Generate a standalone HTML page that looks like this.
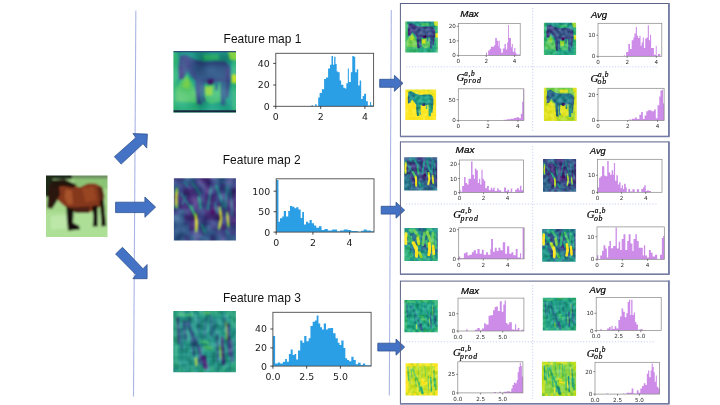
<!DOCTYPE html>
<html lang="en"><head><meta charset="utf-8"><title>Feature map pooling histograms</title>
<style>
html,body{margin:0;padding:0;background:#fff;}
body{width:720px;height:405px;overflow:hidden;}
svg{display:block;}
text{white-space:pre;}
</style></head><body>
<svg width="720" height="405" viewBox="0 0 720 405">
<defs><filter id="bl1_8" x="-20%" y="-20%" width="140%" height="140%"><feGaussianBlur stdDeviation="1.8"/></filter><filter id="nz0" x="-20%" y="-20%" width="140%" height="140%" color-interpolation-filters="sRGB"><feGaussianBlur in="SourceGraphic" stdDeviation="1.5" result="b"/><feTurbulence type="fractalNoise" baseFrequency="0.035" numOctaves="1" seed="23" result="n"/><feColorMatrix in="n" type="matrix" values="1 0 0 0 0 1 0 0 0 0 1 0 0 0 0 0 0 0 0 1" result="g"/><feComponentTransfer in="g" result="g2"><feFuncR type="linear" slope="0.9" intercept="0.05"/><feFuncG type="linear" slope="0.9" intercept="0.05"/><feFuncB type="linear" slope="0.9" intercept="0.05"/></feComponentTransfer><feBlend in="g2" in2="b" mode="soft-light" result="o"/><feComposite in="o" in2="b" operator="in"/></filter><filter id="nz1" x="-20%" y="-20%" width="140%" height="140%" color-interpolation-filters="sRGB"><feGaussianBlur in="SourceGraphic" stdDeviation="1.5" result="b"/><feTurbulence type="fractalNoise" baseFrequency="0.07" numOctaves="1" seed="21" result="n"/><feColorMatrix in="n" type="matrix" values="1 0 0 0 0 1 0 0 0 0 1 0 0 0 0 0 0 0 0 1" result="g"/><feComponentTransfer in="g" result="g2"><feFuncR type="linear" slope="0.9" intercept="0.05"/><feFuncG type="linear" slope="0.9" intercept="0.05"/><feFuncB type="linear" slope="0.9" intercept="0.05"/></feComponentTransfer><feBlend in="g2" in2="b" mode="soft-light" result="o"/><feComposite in="o" in2="b" operator="in"/></filter><filter id="nz2" x="-20%" y="-20%" width="140%" height="140%" color-interpolation-filters="sRGB"><feGaussianBlur in="SourceGraphic" stdDeviation="1.6" result="b"/><feTurbulence type="fractalNoise" baseFrequency="0.1" numOctaves="1" seed="22" result="n"/><feColorMatrix in="n" type="matrix" values="1 0 0 0 0 1 0 0 0 0 1 0 0 0 0 0 0 0 0 1" result="g"/><feComponentTransfer in="g" result="g2"><feFuncR type="linear" slope="0.8" intercept="0.1"/><feFuncG type="linear" slope="0.8" intercept="0.1"/><feFuncB type="linear" slope="0.8" intercept="0.1"/></feComponentTransfer><feBlend in="g2" in2="b" mode="soft-light" result="o"/><feComposite in="o" in2="b" operator="in"/></filter><filter id="nz3" x="-20%" y="-20%" width="140%" height="140%" color-interpolation-filters="sRGB"><feGaussianBlur in="SourceGraphic" stdDeviation="2.0" result="b"/><feTurbulence type="fractalNoise" baseFrequency="0.09" numOctaves="1" seed="3" result="n"/><feColorMatrix in="n" type="matrix" values="1 0 0 0 0 1 0 0 0 0 1 0 0 0 0 0 0 0 0 1" result="g"/><feComponentTransfer in="g" result="g2"><feFuncR type="linear" slope="0.9" intercept="0.05"/><feFuncG type="linear" slope="0.9" intercept="0.05"/><feFuncB type="linear" slope="0.9" intercept="0.05"/></feComponentTransfer><feBlend in="g2" in2="b" mode="soft-light" result="o"/><feComposite in="o" in2="b" operator="in"/></filter><filter id="nz4" x="-20%" y="-20%" width="140%" height="140%" color-interpolation-filters="sRGB"><feGaussianBlur in="SourceGraphic" stdDeviation="2.0" result="b"/><feTurbulence type="fractalNoise" baseFrequency="0.09" numOctaves="1" seed="2" result="n"/><feColorMatrix in="n" type="matrix" values="1 0 0 0 0 1 0 0 0 0 1 0 0 0 0 0 0 0 0 1" result="g"/><feComponentTransfer in="g" result="g2"><feFuncR type="linear" slope="0.9" intercept="0.05"/><feFuncG type="linear" slope="0.9" intercept="0.05"/><feFuncB type="linear" slope="0.9" intercept="0.05"/></feComponentTransfer><feBlend in="g2" in2="b" mode="soft-light" result="o"/><feComposite in="o" in2="b" operator="in"/></filter><filter id="nz5" x="-20%" y="-20%" width="140%" height="140%" color-interpolation-filters="sRGB"><feGaussianBlur in="SourceGraphic" stdDeviation="2.0" result="b"/><feTurbulence type="fractalNoise" baseFrequency="0.09" numOctaves="1" seed="4" result="n"/><feColorMatrix in="n" type="matrix" values="1 0 0 0 0 1 0 0 0 0 1 0 0 0 0 0 0 0 0 1" result="g"/><feComponentTransfer in="g" result="g2"><feFuncR type="linear" slope="0.9" intercept="0.05"/><feFuncG type="linear" slope="0.9" intercept="0.05"/><feFuncB type="linear" slope="0.9" intercept="0.05"/></feComponentTransfer><feBlend in="g2" in2="b" mode="soft-light" result="o"/><feComposite in="o" in2="b" operator="in"/></filter><filter id="nz6" x="-20%" y="-20%" width="140%" height="140%" color-interpolation-filters="sRGB"><feGaussianBlur in="SourceGraphic" stdDeviation="2.0" result="b"/><feTurbulence type="fractalNoise" baseFrequency="0.09" numOctaves="1" seed="5" result="n"/><feColorMatrix in="n" type="matrix" values="1 0 0 0 0 1 0 0 0 0 1 0 0 0 0 0 0 0 0 1" result="g"/><feComponentTransfer in="g" result="g2"><feFuncR type="linear" slope="0.9" intercept="0.05"/><feFuncG type="linear" slope="0.9" intercept="0.05"/><feFuncB type="linear" slope="0.9" intercept="0.05"/></feComponentTransfer><feBlend in="g2" in2="b" mode="soft-light" result="o"/><feComposite in="o" in2="b" operator="in"/></filter><filter id="nz7" x="-20%" y="-20%" width="140%" height="140%" color-interpolation-filters="sRGB"><feGaussianBlur in="SourceGraphic" stdDeviation="2.0" result="b"/><feTurbulence type="fractalNoise" baseFrequency="0.09" numOctaves="1" seed="6" result="n"/><feColorMatrix in="n" type="matrix" values="1 0 0 0 0 1 0 0 0 0 1 0 0 0 0 0 0 0 0 1" result="g"/><feComponentTransfer in="g" result="g2"><feFuncR type="linear" slope="0.9" intercept="0.05"/><feFuncG type="linear" slope="0.9" intercept="0.05"/><feFuncB type="linear" slope="0.9" intercept="0.05"/></feComponentTransfer><feBlend in="g2" in2="b" mode="soft-light" result="o"/><feComposite in="o" in2="b" operator="in"/></filter><filter id="nz8" x="-20%" y="-20%" width="140%" height="140%" color-interpolation-filters="sRGB"><feGaussianBlur in="SourceGraphic" stdDeviation="2.0" result="b"/><feTurbulence type="fractalNoise" baseFrequency="0.09" numOctaves="1" seed="7" result="n"/><feColorMatrix in="n" type="matrix" values="1 0 0 0 0 1 0 0 0 0 1 0 0 0 0 0 0 0 0 1" result="g"/><feComponentTransfer in="g" result="g2"><feFuncR type="linear" slope="0.9" intercept="0.05"/><feFuncG type="linear" slope="0.9" intercept="0.05"/><feFuncB type="linear" slope="0.9" intercept="0.05"/></feComponentTransfer><feBlend in="g2" in2="b" mode="soft-light" result="o"/><feComposite in="o" in2="b" operator="in"/></filter><filter id="nz9" x="-20%" y="-20%" width="140%" height="140%" color-interpolation-filters="sRGB"><feGaussianBlur in="SourceGraphic" stdDeviation="2.0" result="b"/><feTurbulence type="fractalNoise" baseFrequency="0.09" numOctaves="1" seed="8" result="n"/><feColorMatrix in="n" type="matrix" values="1 0 0 0 0 1 0 0 0 0 1 0 0 0 0 0 0 0 0 1" result="g"/><feComponentTransfer in="g" result="g2"><feFuncR type="linear" slope="0.9" intercept="0.05"/><feFuncG type="linear" slope="0.9" intercept="0.05"/><feFuncB type="linear" slope="0.9" intercept="0.05"/></feComponentTransfer><feBlend in="g2" in2="b" mode="soft-light" result="o"/><feComposite in="o" in2="b" operator="in"/></filter><filter id="nz10" x="-20%" y="-20%" width="140%" height="140%" color-interpolation-filters="sRGB"><feGaussianBlur in="SourceGraphic" stdDeviation="2.0" result="b"/><feTurbulence type="fractalNoise" baseFrequency="0.09" numOctaves="1" seed="9" result="n"/><feColorMatrix in="n" type="matrix" values="1 0 0 0 0 1 0 0 0 0 1 0 0 0 0 0 0 0 0 1" result="g"/><feComponentTransfer in="g" result="g2"><feFuncR type="linear" slope="0.9" intercept="0.05"/><feFuncG type="linear" slope="0.9" intercept="0.05"/><feFuncB type="linear" slope="0.9" intercept="0.05"/></feComponentTransfer><feBlend in="g2" in2="b" mode="soft-light" result="o"/><feComposite in="o" in2="b" operator="in"/></filter><filter id="nz11" x="-20%" y="-20%" width="140%" height="140%" color-interpolation-filters="sRGB"><feGaussianBlur in="SourceGraphic" stdDeviation="2.0" result="b"/><feTurbulence type="fractalNoise" baseFrequency="0.09" numOctaves="1" seed="10" result="n"/><feColorMatrix in="n" type="matrix" values="1 0 0 0 0 1 0 0 0 0 1 0 0 0 0 0 0 0 0 1" result="g"/><feComponentTransfer in="g" result="g2"><feFuncR type="linear" slope="0.9" intercept="0.05"/><feFuncG type="linear" slope="0.9" intercept="0.05"/><feFuncB type="linear" slope="0.9" intercept="0.05"/></feComponentTransfer><feBlend in="g2" in2="b" mode="soft-light" result="o"/><feComposite in="o" in2="b" operator="in"/></filter><filter id="nz12" x="-20%" y="-20%" width="140%" height="140%" color-interpolation-filters="sRGB"><feGaussianBlur in="SourceGraphic" stdDeviation="2.0" result="b"/><feTurbulence type="fractalNoise" baseFrequency="0.09" numOctaves="1" seed="11" result="n"/><feColorMatrix in="n" type="matrix" values="1 0 0 0 0 1 0 0 0 0 1 0 0 0 0 0 0 0 0 1" result="g"/><feComponentTransfer in="g" result="g2"><feFuncR type="linear" slope="0.9" intercept="0.05"/><feFuncG type="linear" slope="0.9" intercept="0.05"/><feFuncB type="linear" slope="0.9" intercept="0.05"/></feComponentTransfer><feBlend in="g2" in2="b" mode="soft-light" result="o"/><feComposite in="o" in2="b" operator="in"/></filter><filter id="nz13" x="-20%" y="-20%" width="140%" height="140%" color-interpolation-filters="sRGB"><feGaussianBlur in="SourceGraphic" stdDeviation="2.0" result="b"/><feTurbulence type="fractalNoise" baseFrequency="0.09" numOctaves="1" seed="12" result="n"/><feColorMatrix in="n" type="matrix" values="1 0 0 0 0 1 0 0 0 0 1 0 0 0 0 0 0 0 0 1" result="g"/><feComponentTransfer in="g" result="g2"><feFuncR type="linear" slope="0.9" intercept="0.05"/><feFuncG type="linear" slope="0.9" intercept="0.05"/><feFuncB type="linear" slope="0.9" intercept="0.05"/></feComponentTransfer><feBlend in="g2" in2="b" mode="soft-light" result="o"/><feComposite in="o" in2="b" operator="in"/></filter><pattern id="chk" width="6.4" height="6.4" patternUnits="userSpaceOnUse"><rect width="6.4" height="6.4" fill="none"/><rect x="0" y="0" width="2.4" height="6.4" fill="#1f6f8a" opacity="0.75"/><rect x="0" y="0" width="6.4" height="2.2" fill="#4cc47a" opacity="0.4"/></pattern></defs>
<line x1="135.85" y1="10.4" x2="133.5" y2="396.5" stroke="#aab5e4" stroke-width="1.1"/>
<line x1="391.3" y1="10" x2="389.3" y2="395.4" stroke="#aab5e4" stroke-width="1.1"/>
<svg x="46" y="175.5" width="61.5" height="61.5" viewBox="0 0 100 100" preserveAspectRatio="none"><g filter="url(#bl1_8)"><path d="M-15 -15H115V115H-15Z" fill="#a6d88c"/><path d="M-15 60H115V115H-15Z" fill="#addf96"/><path d="M8 66 L34 64 L34 86 L8 88Z" fill="#bfe8ae" opacity="0.8"/><path d="M44 4 L115 4 L115 22 L48 20Z" fill="#8cc474"/><path d="M-15 -15H115V5H-15Z" fill="#6e8f62"/><path d="M-15 -15H42V6H-15Z" fill="#1d2b1a"/><path d="M-15 0 L12 2 L8 16 L4 34 L-15 36Z" fill="#1c2a19"/><path d="M15 20 L30 12 L45 16 L55 19 L68 13 L80 13 L90 18 L94 30 L93 48 L86 52 L78 56 L70 60 L55 60 L42 58 L34 53 L27 47 L19 40Z" fill="#85371b"/><path d="M32 22 L42 24 L44 46 L36 48 L30 36Z" fill="#ab572e" opacity="0.85"/><path d="M58 20 L78 18 L82 40 L64 44Z" fill="#a04a26" opacity="0.7"/><path d="M40 52 L72 50 L70 61 L48 61Z" fill="#4d2212"/><path d="M84 18 L92 20 L95 34 L93 48 L88 48Z" fill="#5a2614"/><path d="M6 14 L20 12 L23 30 L17 43 L10 54 L2 53 L3 36 L4 22Z" fill="#2a140e"/><path d="M6 8 L30 6 L50 15 L44 20 L28 17 L12 20Z" fill="#20120c"/><path d="M33 50 L45 55 L44 77 L54 82 L55 88 L36 90 L34 72Z" fill="#15100c"/><path d="M74 50 L84 48 L84 70 L84 83 L76 83 L77 66Z" fill="#181008"/><path d="M87 42 L94 40 L98 82 L90 83 L89 64Z" fill="#1c1209"/></g></svg>
<polygon points="114.4,156.7 136,137.5 132.9,133.6 147.4,134.1 146.7,148.1 143,143.7 121.2,164.1" fill="#4472c4" stroke="#2f528f" stroke-width="0.8" stroke-linejoin="miter"/>
<polygon points="115.6,202.2 144.9,202.2 144.9,197 155.6,207.1 144.9,217.3 144.9,212.6 115.6,212.6" fill="#4472c4" stroke="#2f528f" stroke-width="0.8" stroke-linejoin="miter"/>
<polygon points="122.5,247.3 143,268.8 147.1,264.6 147.1,278.7 132.9,278.7 136,274.7 115.6,254" fill="#4472c4" stroke="#2f528f" stroke-width="0.8" stroke-linejoin="miter"/>
<polygon points="379.7,79.3 394.4,79.3 394.4,75.3 403,83.3 394.4,91.3 394.4,87.3 379.7,87.3" fill="#4472c4" stroke="#2f528f" stroke-width="0.8" stroke-linejoin="miter"/>
<polygon points="381.2,206.3 396,206.3 396,202.2 404.7,210.2 396,218.2 396,214.1 381.2,214.1" fill="#4472c4" stroke="#2f528f" stroke-width="0.8" stroke-linejoin="miter"/>
<polygon points="377.8,343.2 396,343.2 396,339 404.7,347.1 396,355.2 396,351 377.8,351" fill="#4472c4" stroke="#2f528f" stroke-width="0.8" stroke-linejoin="miter"/>
<rect x="400.4" y="3.5" width="268.4" height="132.9" fill="none" stroke="#5a6288" stroke-width="1"/>
<line x1="668.9" y1="3" x2="668.9" y2="136.4" stroke="#747ca6" stroke-width="1.8"/>
<line x1="400" y1="136.4" x2="669.5" y2="136.4" stroke="#747ca6" stroke-width="1.5"/>
<rect x="400.4" y="141.9" width="268.4" height="132.4" fill="none" stroke="#5a6288" stroke-width="1"/>
<line x1="668.9" y1="141.4" x2="668.9" y2="274.3" stroke="#747ca6" stroke-width="1.8"/>
<line x1="400" y1="274.3" x2="669.5" y2="274.3" stroke="#747ca6" stroke-width="1.5"/>
<rect x="400.4" y="281.1" width="268.4" height="122.7" fill="none" stroke="#5a6288" stroke-width="1"/>
<line x1="668.9" y1="280.6" x2="668.9" y2="403.8" stroke="#747ca6" stroke-width="1.8"/>
<line x1="400" y1="403.8" x2="669.5" y2="403.8" stroke="#747ca6" stroke-width="1.5"/>
<line x1="406" y1="66.8" x2="658.4" y2="66.8" stroke="#bcc5f4" stroke-width="0.8" stroke-dasharray="1.2 1.7"/>
<line x1="406" y1="204" x2="658" y2="204" stroke="#bcc5f4" stroke-width="0.8" stroke-dasharray="1.2 1.7"/>
<line x1="406" y1="341.8" x2="655.5" y2="341.8" stroke="#bcc5f4" stroke-width="0.8" stroke-dasharray="1.2 1.7"/>
<line x1="532.7" y1="8" x2="532.7" y2="131" stroke="#bcc5f4" stroke-width="0.8" stroke-dasharray="1.2 1.7"/>
<line x1="532.7" y1="146" x2="532.7" y2="269" stroke="#bcc5f4" stroke-width="0.8" stroke-dasharray="1.2 1.7"/>
<line x1="532.7" y1="285" x2="532.7" y2="399" stroke="#bcc5f4" stroke-width="0.8" stroke-dasharray="1.2 1.7"/>
<svg x="173.4" y="51.1" width="62.6" height="61.5" viewBox="0 0 100 100" preserveAspectRatio="none"><g filter="url(#nz0)"><rect x="-15" y="-15" width="130" height="130" fill="#21968a"/><polygon points="-15,45 115,45 115,115 -15,115" fill="#22a386"/><polygon points="-15,-15 6,-15 6,115 -15,115" fill="#36b678"/><polygon points="93,-15 115,-15 115,115 93,115" fill="#30b17c"/><polygon points="86,-5 115,-5 115,16 90,14" fill="#87d448"/><polygon points="46,6 72,5 74,14 50,15" fill="#36b678"/><polygon points="93,38 102,38 102,52 93,52" fill="#bddf26"/><polygon points="5,8 11,8 9,44 5,48" fill="#29ad80"/><polygon points="22,38 30,52 37,70 38,96 4,96 4,62 12,48" fill="#4fc36a"/><polygon points="20,42 27,52 24,62 14,58" fill="#7ad151"/><polygon points="4,82 40,84 40,100 4,100" fill="#2caf7e"/><polygon points="48,56 76,54 76,82 60,86 50,80" fill="#41bd72"/><polygon points="50,58 63,57 62,72 52,72" fill="#8ed544"/><polygon points="84,70 94,68 94,96 84,96" fill="#229f87"/><polygon points="10,8 20,6 34,14 50,18 66,17 82,17 90,24 91,48 88,76 83,76 84,52 76,50 62,52 48,52 36,50 28,40 22,32 16,44 9,46 8,28" fill="#3b528a"/><polygon points="30,22 80,22 82,44 40,46" fill="#365c8c"/><polygon points="9,26 15,24 16,44 9,46" fill="#423e83"/><polygon points="14,10 24,12 30,26 22,28" fill="#3f4988"/><polygon points="86,28 91,28 90,50 85,50" fill="#414487"/><polygon points="55,46 64,45 63,54 55,54" fill="#461668"/><polygon points="35,48 44,50 44,82 47,86 38,86 36,70" fill="#3b528a"/><polygon points="44,50 50,52 49,72 52,82 46,82" fill="#355f8d"/><polygon points="75,50 84,52 83,88 76,88" fill="#33648d"/><polygon points="66,52 72,52 71,64 67,64" fill="#2e6e8e"/></g><rect x="0" y="0" width="100" height="1.9" fill="#2b4a78"/><rect x="0" y="96.2" width="100" height="3.8" fill="#18263e"/></svg>
<svg x="173.9" y="178.3" width="62" height="62.1" viewBox="0 0 100 100" preserveAspectRatio="none"><g filter="url(#nz1)"><rect x="-12" y="-12" width="32.67" height="24.33" fill="#404788"/><rect x="16.67" y="-12" width="20.67" height="24.33" fill="#365c8c"/><rect x="33.33" y="-12" width="12.33" height="24.33" fill="#404788"/><rect x="41.67" y="-12" width="20.67" height="24.33" fill="#462e7a"/><rect x="58.33" y="-12" width="12.33" height="24.33" fill="#404788"/><rect x="66.67" y="-12" width="20.67" height="24.33" fill="#365c8c"/><rect x="83.33" y="-12" width="28.67" height="24.33" fill="#404788"/><rect x="-12" y="8.33" width="24.33" height="12.33" fill="#365c8c"/><rect x="8.33" y="8.33" width="45.67" height="12.33" fill="#404788"/><rect x="50" y="8.33" width="12.33" height="12.33" fill="#462e7a"/><rect x="58.33" y="8.33" width="12.33" height="12.33" fill="#404788"/><rect x="66.67" y="8.33" width="12.33" height="12.33" fill="#365c8c"/><rect x="75" y="8.33" width="12.33" height="12.33" fill="#404788"/><rect x="83.33" y="8.33" width="12.33" height="12.33" fill="#365c8c"/><rect x="91.67" y="8.33" width="20.33" height="12.33" fill="#404788"/><rect x="-12" y="16.67" width="24.33" height="12.33" fill="#365c8c"/><rect x="8.33" y="16.67" width="12.33" height="12.33" fill="#404788"/><rect x="16.67" y="16.67" width="20.67" height="12.33" fill="#462e7a"/><rect x="33.33" y="16.67" width="20.67" height="12.33" fill="#404788"/><rect x="50" y="16.67" width="12.33" height="12.33" fill="#462e7a"/><rect x="58.33" y="16.67" width="29" height="12.33" fill="#404788"/><rect x="83.33" y="16.67" width="12.33" height="12.33" fill="#365c8c"/><rect x="91.67" y="16.67" width="20.33" height="12.33" fill="#462e7a"/><rect x="-12" y="25" width="24.33" height="12.33" fill="#404788"/><rect x="8.33" y="25" width="37.33" height="12.33" fill="#462e7a"/><rect x="41.67" y="25" width="12.33" height="12.33" fill="#404788"/><rect x="50" y="25" width="20.67" height="12.33" fill="#462e7a"/><rect x="66.67" y="25" width="29" height="12.33" fill="#404788"/><rect x="91.67" y="25" width="20.33" height="12.33" fill="#462e7a"/><rect x="-12" y="33.33" width="24.33" height="12.33" fill="#404788"/><rect x="8.33" y="33.33" width="37.33" height="12.33" fill="#462e7a"/><rect x="41.67" y="33.33" width="12.33" height="12.33" fill="#404788"/><rect x="50" y="33.33" width="20.67" height="12.33" fill="#462e7a"/><rect x="66.67" y="33.33" width="20.67" height="12.33" fill="#404788"/><rect x="83.33" y="33.33" width="28.67" height="12.33" fill="#462e7a"/><rect x="-12" y="41.67" width="24.33" height="12.33" fill="#365c8c"/><rect x="8.33" y="41.67" width="20.67" height="12.33" fill="#462e7a"/><rect x="25" y="41.67" width="12.33" height="12.33" fill="#404788"/><rect x="33.33" y="41.67" width="12.33" height="12.33" fill="#462e7a"/><rect x="41.67" y="41.67" width="20.67" height="12.33" fill="#404788"/><rect x="58.33" y="41.67" width="20.67" height="12.33" fill="#462e7a"/><rect x="75" y="41.67" width="12.33" height="12.33" fill="#404788"/><rect x="83.33" y="41.67" width="28.67" height="12.33" fill="#462e7a"/><rect x="-12" y="50" width="24.33" height="12.33" fill="#404788"/><rect x="8.33" y="50" width="12.33" height="12.33" fill="#365c8c"/><rect x="16.67" y="50" width="12.33" height="12.33" fill="#404788"/><rect x="25" y="50" width="12.33" height="12.33" fill="#462e7a"/><rect x="33.33" y="50" width="20.67" height="12.33" fill="#404788"/><rect x="50" y="50" width="12.33" height="12.33" fill="#462e7a"/><rect x="58.33" y="50" width="12.33" height="12.33" fill="#461264"/><rect x="66.67" y="50" width="12.33" height="12.33" fill="#462e7a"/><rect x="75" y="50" width="12.33" height="12.33" fill="#404788"/><rect x="83.33" y="50" width="28.67" height="12.33" fill="#462e7a"/><rect x="-12" y="58.33" width="32.67" height="12.33" fill="#365c8c"/><rect x="16.67" y="58.33" width="20.67" height="12.33" fill="#462e7a"/><rect x="33.33" y="58.33" width="20.67" height="12.33" fill="#404788"/><rect x="50" y="58.33" width="29" height="12.33" fill="#462e7a"/><rect x="75" y="58.33" width="12.33" height="12.33" fill="#404788"/><rect x="83.33" y="58.33" width="28.67" height="12.33" fill="#462e7a"/><rect x="-12" y="66.67" width="32.67" height="12.33" fill="#365c8c"/><rect x="16.67" y="66.67" width="12.33" height="12.33" fill="#404788"/><rect x="25" y="66.67" width="12.33" height="12.33" fill="#462e7a"/><rect x="33.33" y="66.67" width="62.33" height="12.33" fill="#404788"/><rect x="91.67" y="66.67" width="20.33" height="12.33" fill="#462e7a"/><rect x="-12" y="75" width="41" height="12.33" fill="#365c8c"/><rect x="25" y="75" width="12.33" height="12.33" fill="#462e7a"/><rect x="33.33" y="75" width="20.67" height="12.33" fill="#404788"/><rect x="50" y="75" width="12.33" height="12.33" fill="#365c8c"/><rect x="58.33" y="75" width="20.67" height="12.33" fill="#404788"/><rect x="75" y="75" width="12.33" height="12.33" fill="#462e7a"/><rect x="83.33" y="75" width="28.67" height="12.33" fill="#404788"/><rect x="-12" y="83.33" width="41" height="12.33" fill="#365c8c"/><rect x="25" y="83.33" width="29" height="12.33" fill="#404788"/><rect x="50" y="83.33" width="20.67" height="12.33" fill="#365c8c"/><rect x="66.67" y="83.33" width="45.33" height="12.33" fill="#404788"/><rect x="-12" y="91.67" width="32.67" height="20.33" fill="#365c8c"/><rect x="16.67" y="91.67" width="12.33" height="20.33" fill="#404788"/><rect x="25" y="91.67" width="12.33" height="20.33" fill="#365c8c"/><rect x="33.33" y="91.67" width="12.33" height="20.33" fill="#404788"/><rect x="41.67" y="91.67" width="20.67" height="20.33" fill="#365c8c"/><rect x="58.33" y="91.67" width="12.33" height="20.33" fill="#404788"/><rect x="66.67" y="91.67" width="12.33" height="20.33" fill="#365c8c"/><rect x="75" y="91.67" width="12.33" height="20.33" fill="#404788"/><rect x="83.33" y="91.67" width="28.67" height="20.33" fill="#365c8c"/><path d="M30 8 L36 16 L42 25" stroke="#248a8d" stroke-width="3.36" fill="none" stroke-linecap="round" stroke-linejoin="round"/><path d="M16 6 L22 12" stroke="#287f8d" stroke-width="3.12" fill="none" stroke-linecap="round" stroke-linejoin="round"/><path d="M40 30 L42 40 L43 48" stroke="#22a386" stroke-width="3.6" fill="none" stroke-linecap="round" stroke-linejoin="round"/><path d="M68 12 L74 28 L80 45" stroke="#21928c" stroke-width="3.36" fill="none" stroke-linecap="round" stroke-linejoin="round"/><path d="M60 15 L57 34 L55 50" stroke="#26848d" stroke-width="3.36" fill="none" stroke-linecap="round" stroke-linejoin="round"/><path d="M85 15 L84 50" stroke="#26848d" stroke-width="3.12" fill="none" stroke-linecap="round" stroke-linejoin="round"/><path d="M45 75 L50 87" stroke="#219989" stroke-width="3.6" fill="none" stroke-linecap="round" stroke-linejoin="round"/><path d="M12 25 L25 45" stroke="#2a798e" stroke-width="3.6" fill="none" stroke-linecap="round" stroke-linejoin="round"/><path d="M20 28 L13 42" stroke="#2c748e" stroke-width="3.12" fill="none" stroke-linecap="round" stroke-linejoin="round"/><path d="M27 45 L34 60" stroke="#32b37b" stroke-width="4.08" fill="none" stroke-linecap="round" stroke-linejoin="round"/><path d="M92 20 L94 60" stroke="#2c748e" stroke-width="2.88" fill="none" stroke-linecap="round" stroke-linejoin="round"/><path d="M66 40 L70 56" stroke="#2a798e" stroke-width="3.12" fill="none" stroke-linecap="round" stroke-linejoin="round"/><path d="M84 84 L88 90" stroke="#287f8d" stroke-width="3.12" fill="none" stroke-linecap="round" stroke-linejoin="round"/><path d="M4.8 17 L3.8 32 L4.2 47" stroke="#89d448" stroke-width="3.6" fill="none" stroke-linecap="round" stroke-linejoin="round"/><path d="M4.6 22 L3.8 32 L4 42" stroke="#fde725" stroke-width="2.64" fill="none" stroke-linecap="round" stroke-linejoin="round"/><path d="M35 58 L36.5 72 L36 85" stroke="#a6da35" stroke-width="3.84" fill="none" stroke-linecap="round" stroke-linejoin="round"/><path d="M35.6 62 L36.5 72 L36.2 80" stroke="#fde725" stroke-width="2.88" fill="none" stroke-linecap="round" stroke-linejoin="round"/><path d="M74 47 L76 65 L73 81" stroke="#89d448" stroke-width="3.6" fill="none" stroke-linecap="round" stroke-linejoin="round"/><path d="M74.8 53 L76 65 L74 77" stroke="#fde725" stroke-width="2.64" fill="none" stroke-linecap="round" stroke-linejoin="round"/><path d="M86 55 L88 78" stroke="#6ecd58" stroke-width="3.36" fill="none" stroke-linecap="round" stroke-linejoin="round"/><path d="M86.4 60 L87.6 74" stroke="#eee525" stroke-width="2.4" fill="none" stroke-linecap="round" stroke-linejoin="round"/></g></svg>
<svg x="173.3" y="311.1" width="62.6" height="61.1" viewBox="0 0 100 100" preserveAspectRatio="none"><g filter="url(#nz2)"><rect x="-12" y="-12" width="32.67" height="24.33" fill="#2eb07d"/><rect x="16.67" y="-12" width="12.33" height="24.33" fill="#219989"/><rect x="25" y="-12" width="12.33" height="24.33" fill="#2eb07d"/><rect x="33.33" y="-12" width="12.33" height="24.33" fill="#219989"/><rect x="41.67" y="-12" width="12.33" height="24.33" fill="#2eb07d"/><rect x="50" y="-12" width="12.33" height="24.33" fill="#219989"/><rect x="58.33" y="-12" width="20.67" height="24.33" fill="#2eb07d"/><rect x="75" y="-12" width="12.33" height="24.33" fill="#219989"/><rect x="83.33" y="-12" width="28.67" height="24.33" fill="#2eb07d"/><rect x="-12" y="8.33" width="24.33" height="12.33" fill="#2eb07d"/><rect x="8.33" y="8.33" width="87.33" height="12.33" fill="#219989"/><rect x="91.67" y="8.33" width="20.33" height="12.33" fill="#2eb07d"/><rect x="-12" y="16.67" width="24.33" height="12.33" fill="#2eb07d"/><rect x="8.33" y="16.67" width="12.33" height="12.33" fill="#219989"/><rect x="16.67" y="16.67" width="12.33" height="12.33" fill="#2d708e"/><rect x="25" y="16.67" width="70.67" height="12.33" fill="#219989"/><rect x="91.67" y="16.67" width="20.33" height="12.33" fill="#2eb07d"/><rect x="-12" y="25" width="24.33" height="12.33" fill="#2eb07d"/><rect x="8.33" y="25" width="103.67" height="12.33" fill="#219989"/><rect x="-12" y="33.33" width="24.33" height="12.33" fill="#2eb07d"/><rect x="8.33" y="33.33" width="20.67" height="12.33" fill="#219989"/><rect x="25" y="33.33" width="12.33" height="12.33" fill="#2d708e"/><rect x="33.33" y="33.33" width="78.67" height="12.33" fill="#219989"/><rect x="-12" y="41.67" width="24.33" height="12.33" fill="#2eb07d"/><rect x="8.33" y="41.67" width="29" height="12.33" fill="#219989"/><rect x="33.33" y="41.67" width="12.33" height="12.33" fill="#2d708e"/><rect x="41.67" y="41.67" width="70.33" height="12.33" fill="#219989"/><rect x="-12" y="50" width="24.33" height="12.33" fill="#2eb07d"/><rect x="8.33" y="50" width="45.67" height="12.33" fill="#219989"/><rect x="50" y="50" width="12.33" height="12.33" fill="#2eb07d"/><rect x="58.33" y="50" width="53.67" height="12.33" fill="#219989"/><rect x="-12" y="58.33" width="24.33" height="12.33" fill="#2eb07d"/><rect x="8.33" y="58.33" width="45.67" height="12.33" fill="#219989"/><rect x="50" y="58.33" width="20.67" height="12.33" fill="#2eb07d"/><rect x="66.67" y="58.33" width="45.33" height="12.33" fill="#219989"/><rect x="-12" y="66.67" width="24.33" height="12.33" fill="#2eb07d"/><rect x="8.33" y="66.67" width="103.67" height="12.33" fill="#219989"/><rect x="-12" y="75" width="24.33" height="12.33" fill="#2eb07d"/><rect x="8.33" y="75" width="103.67" height="12.33" fill="#219989"/><rect x="-12" y="83.33" width="24.33" height="12.33" fill="#2eb07d"/><rect x="8.33" y="83.33" width="87.33" height="12.33" fill="#219989"/><rect x="91.67" y="83.33" width="20.33" height="12.33" fill="#2eb07d"/><rect x="-12" y="91.67" width="24.33" height="20.33" fill="#219989"/><rect x="8.33" y="91.67" width="12.33" height="20.33" fill="#2eb07d"/><rect x="16.67" y="91.67" width="12.33" height="20.33" fill="#219989"/><rect x="25" y="91.67" width="12.33" height="20.33" fill="#2eb07d"/><rect x="33.33" y="91.67" width="12.33" height="20.33" fill="#219989"/><rect x="41.67" y="91.67" width="12.33" height="20.33" fill="#2eb07d"/><rect x="50" y="91.67" width="12.33" height="20.33" fill="#219989"/><rect x="58.33" y="91.67" width="12.33" height="20.33" fill="#2eb07d"/><rect x="66.67" y="91.67" width="12.33" height="20.33" fill="#219989"/><rect x="75" y="91.67" width="12.33" height="20.33" fill="#2eb07d"/><rect x="83.33" y="91.67" width="12.33" height="20.33" fill="#219989"/><rect x="91.67" y="91.67" width="20.33" height="20.33" fill="#2eb07d"/><rect x="-5" y="-5" width="110" height="110" fill="url(#chk)"/><path d="M7 12 L8 30 L9 52" stroke="#404788" stroke-width="3.74" fill="none" stroke-linecap="round" stroke-linejoin="round"/><path d="M13 30 L14 62" stroke="#34628d" stroke-width="2.64" fill="none" stroke-linecap="round" stroke-linejoin="round"/><path d="M17 18 L20 46" stroke="#3b528a" stroke-width="3.52" fill="none" stroke-linecap="round" stroke-linejoin="round"/><path d="M22 18 L36 52 L50 86" stroke="#3b528a" stroke-width="3.96" fill="none" stroke-linecap="round" stroke-linejoin="round"/><path d="M30 45 L33 72" stroke="#39578b" stroke-width="3.52" fill="none" stroke-linecap="round" stroke-linejoin="round"/><path d="M26 10 L28 30" stroke="#32668d" stroke-width="2.86" fill="none" stroke-linecap="round" stroke-linejoin="round"/><path d="M42 58 L43 86" stroke="#3d4c89" stroke-width="3.52" fill="none" stroke-linecap="round" stroke-linejoin="round"/><path d="M48 76 L52 92" stroke="#482475" stroke-width="7.15" fill="none" stroke-linecap="round" stroke-linejoin="round"/><path d="M78 44 L80 86" stroke="#482475" stroke-width="3.96" fill="none" stroke-linecap="round" stroke-linejoin="round"/><path d="M87 22 L90 72" stroke="#443780" stroke-width="3.96" fill="none" stroke-linecap="round" stroke-linejoin="round"/><path d="M93 48 L94 82" stroke="#404788" stroke-width="3.08" fill="none" stroke-linecap="round" stroke-linejoin="round"/><path d="M70 38 L71 82" stroke="#39578b" stroke-width="3.08" fill="none" stroke-linecap="round" stroke-linejoin="round"/><path d="M60 8 L62 42" stroke="#32668d" stroke-width="3.08" fill="none" stroke-linecap="round" stroke-linejoin="round"/><path d="M52 12 L50 42" stroke="#306c8e" stroke-width="3.08" fill="none" stroke-linecap="round" stroke-linejoin="round"/><path d="M40 12 L41 36" stroke="#306c8e" stroke-width="2.64" fill="none" stroke-linecap="round" stroke-linejoin="round"/><path d="M66 14 L67 34" stroke="#2d708e" stroke-width="2.64" fill="none" stroke-linecap="round" stroke-linejoin="round"/><path d="M82 10 L82 30" stroke="#306c8e" stroke-width="2.64" fill="none" stroke-linecap="round" stroke-linejoin="round"/><path d="M36 77 L37 89" stroke="#e7e425" stroke-width="2.42" fill="none" stroke-linecap="round" stroke-linejoin="round"/><path d="M84.5 18 L85.5 46" stroke="#91d642" stroke-width="2.2" fill="none" stroke-linecap="round" stroke-linejoin="round"/><path d="M75 58 L76 76" stroke="#84d34b" stroke-width="2.64" fill="none" stroke-linecap="round" stroke-linejoin="round"/><path d="M50 59 L60 60" stroke="#62c95f" stroke-width="3.08" fill="none" stroke-linecap="round" stroke-linejoin="round"/><path d="M45 50 L56 51" stroke="#52c468" stroke-width="2.64" fill="none" stroke-linecap="round" stroke-linejoin="round"/><path d="M10 6 L30 7" stroke="#4cc26b" stroke-width="2.64" fill="none" stroke-linecap="round" stroke-linejoin="round"/><path d="M50 3 L58 3" stroke="#72ce56" stroke-width="2.64" fill="none" stroke-linecap="round" stroke-linejoin="round"/></g></svg>
<svg x="405.3" y="21.4" width="32.5" height="31.2" viewBox="0 0 100 100" preserveAspectRatio="none"><g filter="url(#nz3)"><rect x="-15" y="-15" width="130" height="130" fill="#219a89"/><polygon points="-15,45 115,45 115,115 -15,115" fill="#27ab81"/><polygon points="-15,-15 6,-15 6,115 -15,115" fill="#4cc26b"/><polygon points="93,-15 115,-15 115,115 93,115" fill="#41bd72"/><polygon points="86,-5 115,-5 115,16 90,14" fill="#c7e026"/><polygon points="46,6 72,5 74,14 50,15" fill="#4cc26b"/><polygon points="93,38 102,38 102,52 93,52" fill="#fde725"/><polygon points="5,8 11,8 9,44 5,48" fill="#38b777"/><polygon points="22,38 30,52 37,70 38,96 4,96 4,62 12,48" fill="#75cf54"/><polygon points="20,42 27,52 24,62 14,58" fill="#b6de2a"/><polygon points="4,82 40,84 40,100 4,100" fill="#3cba74"/><polygon points="48,56 76,54 76,82 60,86 50,80" fill="#60c860"/><polygon points="50,58 63,57 62,72 52,72" fill="#cfe126"/><polygon points="84,70 94,68 94,96 84,96" fill="#22a685"/><polygon points="10,8 20,6 34,14 50,18 66,17 82,17 90,24 91,48 88,76 83,76 84,52 76,50 62,52 48,52 36,50 28,40 22,32 16,44 9,46 8,28" fill="#414587"/><polygon points="30,22 80,22 82,44 40,46" fill="#3b528a"/><polygon points="9,26 15,24 16,44 9,46" fill="#472978"/><polygon points="14,10 24,12 30,26 22,28" fill="#433981"/><polygon points="86,28 91,28 90,50 85,50" fill="#45317c"/><polygon points="55,46 64,45 63,54 55,54" fill="#440154"/><polygon points="35,48 44,50 44,82 47,86 38,86 36,70" fill="#414587"/><polygon points="44,50 50,52 49,72 52,82 46,82" fill="#39568b"/><polygon points="75,50 84,52 83,88 76,88" fill="#365c8c"/><polygon points="66,52 72,52 71,64 67,64" fill="#31698d"/></g></svg>
<svg x="543.9" y="22.8" width="32.2" height="32.2" viewBox="0 0 100 100" preserveAspectRatio="none"><g filter="url(#nz4)"><rect x="-15" y="-15" width="130" height="130" fill="#21968a"/><polygon points="-15,45 115,45 115,115 -15,115" fill="#22a585"/><polygon points="-15,-15 6,-15 6,115 -15,115" fill="#3cb975"/><polygon points="93,-15 115,-15 115,115 93,115" fill="#34b479"/><polygon points="86,-5 115,-5 115,16 90,14" fill="#9dd83b"/><polygon points="46,6 72,5 74,14 50,15" fill="#3cb975"/><polygon points="93,38 102,38 102,52 93,52" fill="#d7e226"/><polygon points="5,8 11,8 9,44 5,48" fill="#2daf7e"/><polygon points="22,38 30,52 37,70 38,96 4,96 4,62 12,48" fill="#5bc763"/><polygon points="20,42 27,52 24,62 14,58" fill="#8ed544"/><polygon points="4,82 40,84 40,100 4,100" fill="#31b27b"/><polygon points="48,56 76,54 76,82 60,86 50,80" fill="#49c16d"/><polygon points="50,58 63,57 62,72 52,72" fill="#a4da36"/><polygon points="84,70 94,68 94,96 84,96" fill="#22a087"/><polygon points="10,8 20,6 34,14 50,18 66,17 82,17 90,24 91,48 88,76 83,76 84,52 76,50 62,52 48,52 36,50 28,40 22,32 16,44 9,46 8,28" fill="#3e4b88"/><polygon points="30,22 80,22 82,44 40,46" fill="#39578b"/><polygon points="9,26 15,24 16,44 9,46" fill="#45337e"/><polygon points="14,10 24,12 30,26 22,28" fill="#424186"/><polygon points="86,28 91,28 90,50 85,50" fill="#433a82"/><polygon points="55,46 64,45 63,54 55,54" fill="#450759"/><polygon points="35,48 44,50 44,82 47,86 38,86 36,70" fill="#3e4b88"/><polygon points="44,50 50,52 49,72 52,82 46,82" fill="#375a8c"/><polygon points="75,50 84,52 83,88 76,88" fill="#35608d"/><polygon points="66,52 72,52 71,64 67,64" fill="#306b8d"/></g></svg>
<svg x="405.3" y="89.4" width="30.8" height="30.6" viewBox="0 0 100 100" preserveAspectRatio="none"><g filter="url(#nz3)"><rect x="-15" y="-15" width="130" height="130" fill="#eae525"/><polygon points="-15,45 115,45 115,115 -15,115" fill="#fde725"/><polygon points="-15,-15 6,-15 6,115 -15,115" fill="#fde725"/><polygon points="93,-15 115,-15 115,115 93,115" fill="#fde725"/><polygon points="86,-5 115,-5 115,16 90,14" fill="#fde725"/><polygon points="46,6 72,5 74,14 50,15" fill="#fde725"/><polygon points="93,38 102,38 102,52 93,52" fill="#fde725"/><polygon points="5,8 11,8 9,44 5,48" fill="#fde725"/><polygon points="22,38 30,52 37,70 38,96 4,96 4,62 12,48" fill="#fde725"/><polygon points="20,42 27,52 24,62 14,58" fill="#fde725"/><polygon points="4,82 40,84 40,100 4,100" fill="#fde725"/><polygon points="48,56 76,54 76,82 60,86 50,80" fill="#fde725"/><polygon points="50,58 63,57 62,72 52,72" fill="#fde725"/><polygon points="84,70 94,68 94,96 84,96" fill="#fde725"/><polygon points="10,8 20,6 34,14 50,18 66,17 82,17 90,24 91,48 88,76 83,76 84,52 76,50 62,52 48,52 36,50 28,40 22,32 16,44 9,46 8,28" fill="#21908c"/><polygon points="30,22 80,22 82,44 40,46" fill="#22a187"/><polygon points="9,26 15,24 16,44 9,46" fill="#2d728e"/><polygon points="14,10 24,12 30,26 22,28" fill="#26838d"/><polygon points="86,28 91,28 90,50 85,50" fill="#297a8e"/><polygon points="55,46 64,45 63,54 55,54" fill="#433981"/><polygon points="35,48 44,50 44,82 47,86 38,86 36,70" fill="#21908c"/><polygon points="44,50 50,52 49,72 52,82 46,82" fill="#22a585"/><polygon points="75,50 84,52 83,88 76,88" fill="#29ad80"/><polygon points="66,52 72,52 71,64 67,64" fill="#41bd72"/></g></svg>
<svg x="543.9" y="87.8" width="32.8" height="33.3" viewBox="0 0 100 100" preserveAspectRatio="none"><g filter="url(#nz5)"><rect x="-15" y="-15" width="130" height="130" fill="#78d052"/><polygon points="-15,45 115,45 115,115 -15,115" fill="#b6dd2b"/><polygon points="-15,-15 6,-15 6,115 -15,115" fill="#e3e425"/><polygon points="93,-15 115,-15 115,115 93,115" fill="#e3e425"/><polygon points="86,-5 115,-5 115,16 90,14" fill="#e3e425"/><polygon points="46,6 72,5 74,14 50,15" fill="#e3e425"/><polygon points="93,38 102,38 102,52 93,52" fill="#e3e425"/><polygon points="5,8 11,8 9,44 5,48" fill="#dee325"/><polygon points="22,38 30,52 37,70 38,96 4,96 4,62 12,48" fill="#e3e425"/><polygon points="20,42 27,52 24,62 14,58" fill="#e3e425"/><polygon points="4,82 40,84 40,100 4,100" fill="#e3e425"/><polygon points="48,56 76,54 76,82 60,86 50,80" fill="#e3e425"/><polygon points="50,58 63,57 62,72 52,72" fill="#e3e425"/><polygon points="84,70 94,68 94,96 84,96" fill="#a1d938"/><polygon points="10,8 20,6 34,14 50,18 66,17 82,17 90,24 91,48 88,76 83,76 84,52 76,50 62,52 48,52 36,50 28,40 22,32 16,44 9,46 8,28" fill="#2c728e"/><polygon points="30,22 80,22 82,44 40,46" fill="#26828d"/><polygon points="9,26 15,24 16,44 9,46" fill="#39578b"/><polygon points="14,10 24,12 30,26 22,28" fill="#32678d"/><polygon points="86,28 91,28 90,50 85,50" fill="#355f8d"/><polygon points="55,46 64,45 63,54 55,54" fill="#471e6f"/><polygon points="35,48 44,50 44,82 47,86 38,86 36,70" fill="#2c728e"/><polygon points="44,50 50,52 49,72 52,82 46,82" fill="#25868d"/><polygon points="75,50 84,52 83,88 76,88" fill="#228e8c"/><polygon points="66,52 72,52 71,64 67,64" fill="#219c88"/></g></svg>
<svg x="404.2" y="157.2" width="33" height="33.4" viewBox="0 0 100 100" preserveAspectRatio="none"><g filter="url(#nz6)"><rect x="-12" y="-12" width="32.67" height="24.33" fill="#365c8c"/><rect x="16.67" y="-12" width="20.67" height="24.33" fill="#2a798e"/><rect x="33.33" y="-12" width="12.33" height="24.33" fill="#365c8c"/><rect x="41.67" y="-12" width="20.67" height="24.33" fill="#433c82"/><rect x="58.33" y="-12" width="12.33" height="24.33" fill="#365c8c"/><rect x="66.67" y="-12" width="20.67" height="24.33" fill="#2a798e"/><rect x="83.33" y="-12" width="28.67" height="24.33" fill="#365c8c"/><rect x="-12" y="8.33" width="24.33" height="12.33" fill="#2a798e"/><rect x="8.33" y="8.33" width="45.67" height="12.33" fill="#365c8c"/><rect x="50" y="8.33" width="12.33" height="12.33" fill="#433c82"/><rect x="58.33" y="8.33" width="12.33" height="12.33" fill="#365c8c"/><rect x="66.67" y="8.33" width="12.33" height="12.33" fill="#2a798e"/><rect x="75" y="8.33" width="12.33" height="12.33" fill="#365c8c"/><rect x="83.33" y="8.33" width="12.33" height="12.33" fill="#2a798e"/><rect x="91.67" y="8.33" width="20.33" height="12.33" fill="#365c8c"/><rect x="-12" y="16.67" width="24.33" height="12.33" fill="#2a798e"/><rect x="8.33" y="16.67" width="12.33" height="12.33" fill="#365c8c"/><rect x="16.67" y="16.67" width="20.67" height="12.33" fill="#433c82"/><rect x="33.33" y="16.67" width="20.67" height="12.33" fill="#365c8c"/><rect x="50" y="16.67" width="12.33" height="12.33" fill="#433c82"/><rect x="58.33" y="16.67" width="29" height="12.33" fill="#365c8c"/><rect x="83.33" y="16.67" width="12.33" height="12.33" fill="#2a798e"/><rect x="91.67" y="16.67" width="20.33" height="12.33" fill="#433c82"/><rect x="-12" y="25" width="24.33" height="12.33" fill="#365c8c"/><rect x="8.33" y="25" width="37.33" height="12.33" fill="#433c82"/><rect x="41.67" y="25" width="12.33" height="12.33" fill="#365c8c"/><rect x="50" y="25" width="20.67" height="12.33" fill="#433c82"/><rect x="66.67" y="25" width="29" height="12.33" fill="#365c8c"/><rect x="91.67" y="25" width="20.33" height="12.33" fill="#433c82"/><rect x="-12" y="33.33" width="24.33" height="12.33" fill="#365c8c"/><rect x="8.33" y="33.33" width="37.33" height="12.33" fill="#433c82"/><rect x="41.67" y="33.33" width="12.33" height="12.33" fill="#365c8c"/><rect x="50" y="33.33" width="20.67" height="12.33" fill="#433c82"/><rect x="66.67" y="33.33" width="20.67" height="12.33" fill="#365c8c"/><rect x="83.33" y="33.33" width="28.67" height="12.33" fill="#433c82"/><rect x="-12" y="41.67" width="24.33" height="12.33" fill="#2a798e"/><rect x="8.33" y="41.67" width="20.67" height="12.33" fill="#433c82"/><rect x="25" y="41.67" width="12.33" height="12.33" fill="#365c8c"/><rect x="33.33" y="41.67" width="12.33" height="12.33" fill="#433c82"/><rect x="41.67" y="41.67" width="20.67" height="12.33" fill="#365c8c"/><rect x="58.33" y="41.67" width="20.67" height="12.33" fill="#433c82"/><rect x="75" y="41.67" width="12.33" height="12.33" fill="#365c8c"/><rect x="83.33" y="41.67" width="28.67" height="12.33" fill="#433c82"/><rect x="-12" y="50" width="24.33" height="12.33" fill="#365c8c"/><rect x="8.33" y="50" width="12.33" height="12.33" fill="#2a798e"/><rect x="16.67" y="50" width="12.33" height="12.33" fill="#365c8c"/><rect x="25" y="50" width="12.33" height="12.33" fill="#433c82"/><rect x="33.33" y="50" width="20.67" height="12.33" fill="#365c8c"/><rect x="50" y="50" width="12.33" height="12.33" fill="#433c82"/><rect x="58.33" y="50" width="12.33" height="12.33" fill="#461668"/><rect x="66.67" y="50" width="12.33" height="12.33" fill="#433c82"/><rect x="75" y="50" width="12.33" height="12.33" fill="#365c8c"/><rect x="83.33" y="50" width="28.67" height="12.33" fill="#433c82"/><rect x="-12" y="58.33" width="32.67" height="12.33" fill="#2a798e"/><rect x="16.67" y="58.33" width="20.67" height="12.33" fill="#433c82"/><rect x="33.33" y="58.33" width="20.67" height="12.33" fill="#365c8c"/><rect x="50" y="58.33" width="29" height="12.33" fill="#433c82"/><rect x="75" y="58.33" width="12.33" height="12.33" fill="#365c8c"/><rect x="83.33" y="58.33" width="28.67" height="12.33" fill="#433c82"/><rect x="-12" y="66.67" width="32.67" height="12.33" fill="#2a798e"/><rect x="16.67" y="66.67" width="12.33" height="12.33" fill="#365c8c"/><rect x="25" y="66.67" width="12.33" height="12.33" fill="#433c82"/><rect x="33.33" y="66.67" width="62.33" height="12.33" fill="#365c8c"/><rect x="91.67" y="66.67" width="20.33" height="12.33" fill="#433c82"/><rect x="-12" y="75" width="41" height="12.33" fill="#2a798e"/><rect x="25" y="75" width="12.33" height="12.33" fill="#433c82"/><rect x="33.33" y="75" width="20.67" height="12.33" fill="#365c8c"/><rect x="50" y="75" width="12.33" height="12.33" fill="#2a798e"/><rect x="58.33" y="75" width="20.67" height="12.33" fill="#365c8c"/><rect x="75" y="75" width="12.33" height="12.33" fill="#433c82"/><rect x="83.33" y="75" width="28.67" height="12.33" fill="#365c8c"/><rect x="-12" y="83.33" width="41" height="12.33" fill="#2a798e"/><rect x="25" y="83.33" width="29" height="12.33" fill="#365c8c"/><rect x="50" y="83.33" width="20.67" height="12.33" fill="#2a798e"/><rect x="66.67" y="83.33" width="45.33" height="12.33" fill="#365c8c"/><rect x="-12" y="91.67" width="32.67" height="20.33" fill="#2a798e"/><rect x="16.67" y="91.67" width="12.33" height="20.33" fill="#365c8c"/><rect x="25" y="91.67" width="12.33" height="20.33" fill="#2a798e"/><rect x="33.33" y="91.67" width="12.33" height="20.33" fill="#365c8c"/><rect x="41.67" y="91.67" width="20.67" height="20.33" fill="#2a798e"/><rect x="58.33" y="91.67" width="12.33" height="20.33" fill="#365c8c"/><rect x="66.67" y="91.67" width="12.33" height="20.33" fill="#2a798e"/><rect x="75" y="91.67" width="12.33" height="20.33" fill="#365c8c"/><rect x="83.33" y="91.67" width="28.67" height="20.33" fill="#2a798e"/><path d="M30 8 L36 16 L42 25" stroke="#21968a" stroke-width="5.6" fill="none" stroke-linecap="round" stroke-linejoin="round"/><path d="M16 6 L22 12" stroke="#238a8d" stroke-width="5.2" fill="none" stroke-linecap="round" stroke-linejoin="round"/><path d="M40 30 L42 40 L43 48" stroke="#2eb07d" stroke-width="6" fill="none" stroke-linecap="round" stroke-linejoin="round"/><path d="M68 12 L74 28 L80 45" stroke="#229e88" stroke-width="5.6" fill="none" stroke-linecap="round" stroke-linejoin="round"/><path d="M60 15 L57 34 L55 50" stroke="#21908c" stroke-width="5.6" fill="none" stroke-linecap="round" stroke-linejoin="round"/><path d="M85 15 L84 50" stroke="#21908c" stroke-width="5.2" fill="none" stroke-linecap="round" stroke-linejoin="round"/><path d="M45 75 L50 87" stroke="#22a585" stroke-width="6" fill="none" stroke-linecap="round" stroke-linejoin="round"/><path d="M12 25 L25 45" stroke="#25858d" stroke-width="6" fill="none" stroke-linecap="round" stroke-linejoin="round"/><path d="M20 28 L13 42" stroke="#277f8d" stroke-width="5.2" fill="none" stroke-linecap="round" stroke-linejoin="round"/><path d="M27 45 L34 60" stroke="#46c06f" stroke-width="6.8" fill="none" stroke-linecap="round" stroke-linejoin="round"/><path d="M92 20 L94 60" stroke="#277f8d" stroke-width="4.8" fill="none" stroke-linecap="round" stroke-linejoin="round"/><path d="M66 40 L70 56" stroke="#25858d" stroke-width="5.2" fill="none" stroke-linecap="round" stroke-linejoin="round"/><path d="M84 84 L88 90" stroke="#238a8d" stroke-width="5.2" fill="none" stroke-linecap="round" stroke-linejoin="round"/><path d="M4.8 17 L3.8 32 L4.2 47" stroke="#b5dd2b" stroke-width="6" fill="none" stroke-linecap="round" stroke-linejoin="round"/><path d="M4.6 22 L3.8 32 L4 42" stroke="#fde725" stroke-width="4.4" fill="none" stroke-linecap="round" stroke-linejoin="round"/><path d="M35 58 L36.5 72 L36 85" stroke="#d3e226" stroke-width="6.4" fill="none" stroke-linecap="round" stroke-linejoin="round"/><path d="M35.6 62 L36.5 72 L36.2 80" stroke="#fde725" stroke-width="4.8" fill="none" stroke-linecap="round" stroke-linejoin="round"/><path d="M74 47 L76 65 L73 81" stroke="#b5dd2b" stroke-width="6" fill="none" stroke-linecap="round" stroke-linejoin="round"/><path d="M74.8 53 L76 65 L74 77" stroke="#fde725" stroke-width="4.4" fill="none" stroke-linecap="round" stroke-linejoin="round"/><path d="M86 55 L88 78" stroke="#96d73f" stroke-width="5.6" fill="none" stroke-linecap="round" stroke-linejoin="round"/><path d="M86.4 60 L87.6 74" stroke="#fde725" stroke-width="4" fill="none" stroke-linecap="round" stroke-linejoin="round"/></g></svg>
<svg x="543" y="158.9" width="33.1" height="32.8" viewBox="0 0 100 100" preserveAspectRatio="none"><g filter="url(#nz7)"><rect x="-12" y="-12" width="32.67" height="24.33" fill="#3d4c89"/><rect x="16.67" y="-12" width="20.67" height="24.33" fill="#32668d"/><rect x="33.33" y="-12" width="12.33" height="24.33" fill="#3d4c89"/><rect x="41.67" y="-12" width="20.67" height="24.33" fill="#462e7a"/><rect x="58.33" y="-12" width="12.33" height="24.33" fill="#3d4c89"/><rect x="66.67" y="-12" width="20.67" height="24.33" fill="#32668d"/><rect x="83.33" y="-12" width="28.67" height="24.33" fill="#3d4c89"/><rect x="-12" y="8.33" width="24.33" height="12.33" fill="#32668d"/><rect x="8.33" y="8.33" width="45.67" height="12.33" fill="#3d4c89"/><rect x="50" y="8.33" width="12.33" height="12.33" fill="#462e7a"/><rect x="58.33" y="8.33" width="12.33" height="12.33" fill="#3d4c89"/><rect x="66.67" y="8.33" width="12.33" height="12.33" fill="#32668d"/><rect x="75" y="8.33" width="12.33" height="12.33" fill="#3d4c89"/><rect x="83.33" y="8.33" width="12.33" height="12.33" fill="#32668d"/><rect x="91.67" y="8.33" width="20.33" height="12.33" fill="#3d4c89"/><rect x="-12" y="16.67" width="24.33" height="12.33" fill="#32668d"/><rect x="8.33" y="16.67" width="12.33" height="12.33" fill="#3d4c89"/><rect x="16.67" y="16.67" width="20.67" height="12.33" fill="#462e7a"/><rect x="33.33" y="16.67" width="20.67" height="12.33" fill="#3d4c89"/><rect x="50" y="16.67" width="12.33" height="12.33" fill="#462e7a"/><rect x="58.33" y="16.67" width="29" height="12.33" fill="#3d4c89"/><rect x="83.33" y="16.67" width="12.33" height="12.33" fill="#32668d"/><rect x="91.67" y="16.67" width="20.33" height="12.33" fill="#462e7a"/><rect x="-12" y="25" width="24.33" height="12.33" fill="#3d4c89"/><rect x="8.33" y="25" width="37.33" height="12.33" fill="#462e7a"/><rect x="41.67" y="25" width="12.33" height="12.33" fill="#3d4c89"/><rect x="50" y="25" width="20.67" height="12.33" fill="#462e7a"/><rect x="66.67" y="25" width="29" height="12.33" fill="#3d4c89"/><rect x="91.67" y="25" width="20.33" height="12.33" fill="#462e7a"/><rect x="-12" y="33.33" width="24.33" height="12.33" fill="#3d4c89"/><rect x="8.33" y="33.33" width="37.33" height="12.33" fill="#462e7a"/><rect x="41.67" y="33.33" width="12.33" height="12.33" fill="#3d4c89"/><rect x="50" y="33.33" width="20.67" height="12.33" fill="#462e7a"/><rect x="66.67" y="33.33" width="20.67" height="12.33" fill="#3d4c89"/><rect x="83.33" y="33.33" width="28.67" height="12.33" fill="#462e7a"/><rect x="-12" y="41.67" width="24.33" height="12.33" fill="#32668d"/><rect x="8.33" y="41.67" width="20.67" height="12.33" fill="#462e7a"/><rect x="25" y="41.67" width="12.33" height="12.33" fill="#3d4c89"/><rect x="33.33" y="41.67" width="12.33" height="12.33" fill="#462e7a"/><rect x="41.67" y="41.67" width="20.67" height="12.33" fill="#3d4c89"/><rect x="58.33" y="41.67" width="20.67" height="12.33" fill="#462e7a"/><rect x="75" y="41.67" width="12.33" height="12.33" fill="#3d4c89"/><rect x="83.33" y="41.67" width="28.67" height="12.33" fill="#462e7a"/><rect x="-12" y="50" width="24.33" height="12.33" fill="#3d4c89"/><rect x="8.33" y="50" width="12.33" height="12.33" fill="#32668d"/><rect x="16.67" y="50" width="12.33" height="12.33" fill="#3d4c89"/><rect x="25" y="50" width="12.33" height="12.33" fill="#462e7a"/><rect x="33.33" y="50" width="20.67" height="12.33" fill="#3d4c89"/><rect x="50" y="50" width="12.33" height="12.33" fill="#462e7a"/><rect x="58.33" y="50" width="12.33" height="12.33" fill="#450c5e"/><rect x="66.67" y="50" width="12.33" height="12.33" fill="#462e7a"/><rect x="75" y="50" width="12.33" height="12.33" fill="#3d4c89"/><rect x="83.33" y="50" width="28.67" height="12.33" fill="#462e7a"/><rect x="-12" y="58.33" width="32.67" height="12.33" fill="#32668d"/><rect x="16.67" y="58.33" width="20.67" height="12.33" fill="#462e7a"/><rect x="33.33" y="58.33" width="20.67" height="12.33" fill="#3d4c89"/><rect x="50" y="58.33" width="29" height="12.33" fill="#462e7a"/><rect x="75" y="58.33" width="12.33" height="12.33" fill="#3d4c89"/><rect x="83.33" y="58.33" width="28.67" height="12.33" fill="#462e7a"/><rect x="-12" y="66.67" width="32.67" height="12.33" fill="#32668d"/><rect x="16.67" y="66.67" width="12.33" height="12.33" fill="#3d4c89"/><rect x="25" y="66.67" width="12.33" height="12.33" fill="#462e7a"/><rect x="33.33" y="66.67" width="62.33" height="12.33" fill="#3d4c89"/><rect x="91.67" y="66.67" width="20.33" height="12.33" fill="#462e7a"/><rect x="-12" y="75" width="41" height="12.33" fill="#32668d"/><rect x="25" y="75" width="12.33" height="12.33" fill="#462e7a"/><rect x="33.33" y="75" width="20.67" height="12.33" fill="#3d4c89"/><rect x="50" y="75" width="12.33" height="12.33" fill="#32668d"/><rect x="58.33" y="75" width="20.67" height="12.33" fill="#3d4c89"/><rect x="75" y="75" width="12.33" height="12.33" fill="#462e7a"/><rect x="83.33" y="75" width="28.67" height="12.33" fill="#3d4c89"/><rect x="-12" y="83.33" width="41" height="12.33" fill="#32668d"/><rect x="25" y="83.33" width="29" height="12.33" fill="#3d4c89"/><rect x="50" y="83.33" width="20.67" height="12.33" fill="#32668d"/><rect x="66.67" y="83.33" width="45.33" height="12.33" fill="#3d4c89"/><rect x="-12" y="91.67" width="32.67" height="20.33" fill="#32668d"/><rect x="16.67" y="91.67" width="12.33" height="20.33" fill="#3d4c89"/><rect x="25" y="91.67" width="12.33" height="20.33" fill="#32668d"/><rect x="33.33" y="91.67" width="12.33" height="20.33" fill="#3d4c89"/><rect x="41.67" y="91.67" width="20.67" height="20.33" fill="#32668d"/><rect x="58.33" y="91.67" width="12.33" height="20.33" fill="#3d4c89"/><rect x="66.67" y="91.67" width="12.33" height="20.33" fill="#32668d"/><rect x="75" y="91.67" width="12.33" height="20.33" fill="#3d4c89"/><rect x="83.33" y="91.67" width="28.67" height="20.33" fill="#32668d"/><path d="M30 8 L36 16 L42 25" stroke="#27808d" stroke-width="4.48" fill="none" stroke-linecap="round" stroke-linejoin="round"/><path d="M16 6 L22 12" stroke="#2b768e" stroke-width="4.16" fill="none" stroke-linecap="round" stroke-linejoin="round"/><path d="M40 30 L42 40 L43 48" stroke="#21988a" stroke-width="4.8" fill="none" stroke-linecap="round" stroke-linejoin="round"/><path d="M68 12 L74 28 L80 45" stroke="#25878d" stroke-width="4.48" fill="none" stroke-linecap="round" stroke-linejoin="round"/><path d="M60 15 L57 34 L55 50" stroke="#297a8e" stroke-width="4.48" fill="none" stroke-linecap="round" stroke-linejoin="round"/><path d="M85 15 L84 50" stroke="#297a8e" stroke-width="4.16" fill="none" stroke-linecap="round" stroke-linejoin="round"/><path d="M45 75 L50 87" stroke="#228e8c" stroke-width="4.8" fill="none" stroke-linecap="round" stroke-linejoin="round"/><path d="M12 25 L25 45" stroke="#2d708e" stroke-width="4.8" fill="none" stroke-linecap="round" stroke-linejoin="round"/><path d="M20 28 L13 42" stroke="#306c8e" stroke-width="4.16" fill="none" stroke-linecap="round" stroke-linejoin="round"/><path d="M27 45 L34 60" stroke="#22a685" stroke-width="5.44" fill="none" stroke-linecap="round" stroke-linejoin="round"/><path d="M92 20 L94 60" stroke="#306c8e" stroke-width="3.84" fill="none" stroke-linecap="round" stroke-linejoin="round"/><path d="M66 40 L70 56" stroke="#2d708e" stroke-width="4.16" fill="none" stroke-linecap="round" stroke-linejoin="round"/><path d="M84 84 L88 90" stroke="#2b768e" stroke-width="4.16" fill="none" stroke-linecap="round" stroke-linejoin="round"/><path d="M4.8 17 L3.8 32 L4.2 47" stroke="#5fc860" stroke-width="4.8" fill="none" stroke-linecap="round" stroke-linejoin="round"/><path d="M4.6 22 L3.8 32 L4 42" stroke="#d0e126" stroke-width="3.52" fill="none" stroke-linecap="round" stroke-linejoin="round"/><path d="M35 58 L36.5 72 L36 85" stroke="#75cf54" stroke-width="5.12" fill="none" stroke-linecap="round" stroke-linejoin="round"/><path d="M35.6 62 L36.5 72 L36.2 80" stroke="#eae525" stroke-width="3.84" fill="none" stroke-linecap="round" stroke-linejoin="round"/><path d="M74 47 L76 65 L73 81" stroke="#5fc860" stroke-width="4.8" fill="none" stroke-linecap="round" stroke-linejoin="round"/><path d="M74.8 53 L76 65 L74 77" stroke="#d0e126" stroke-width="3.52" fill="none" stroke-linecap="round" stroke-linejoin="round"/><path d="M86 55 L88 78" stroke="#49c16d" stroke-width="4.48" fill="none" stroke-linecap="round" stroke-linejoin="round"/><path d="M86.4 60 L87.6 74" stroke="#b6de2a" stroke-width="3.2" fill="none" stroke-linecap="round" stroke-linejoin="round"/></g></svg>
<svg x="404.4" y="228" width="33.4" height="33.1" viewBox="0 0 100 100" preserveAspectRatio="none"><g filter="url(#nz8)"><rect x="-12" y="-12" width="32.67" height="24.33" fill="#21938b"/><rect x="16.67" y="-12" width="20.67" height="24.33" fill="#31b27b"/><rect x="33.33" y="-12" width="12.33" height="24.33" fill="#21938b"/><rect x="41.67" y="-12" width="20.67" height="24.33" fill="#2d728e"/><rect x="58.33" y="-12" width="12.33" height="24.33" fill="#21938b"/><rect x="66.67" y="-12" width="20.67" height="24.33" fill="#31b27b"/><rect x="83.33" y="-12" width="28.67" height="24.33" fill="#21938b"/><rect x="-12" y="8.33" width="24.33" height="12.33" fill="#31b27b"/><rect x="8.33" y="8.33" width="45.67" height="12.33" fill="#21938b"/><rect x="50" y="8.33" width="12.33" height="12.33" fill="#2d728e"/><rect x="58.33" y="8.33" width="12.33" height="12.33" fill="#21938b"/><rect x="66.67" y="8.33" width="12.33" height="12.33" fill="#31b27b"/><rect x="75" y="8.33" width="12.33" height="12.33" fill="#21938b"/><rect x="83.33" y="8.33" width="12.33" height="12.33" fill="#31b27b"/><rect x="91.67" y="8.33" width="20.33" height="12.33" fill="#21938b"/><rect x="-12" y="16.67" width="24.33" height="12.33" fill="#31b27b"/><rect x="8.33" y="16.67" width="12.33" height="12.33" fill="#21938b"/><rect x="16.67" y="16.67" width="20.67" height="12.33" fill="#2d728e"/><rect x="33.33" y="16.67" width="20.67" height="12.33" fill="#21938b"/><rect x="50" y="16.67" width="12.33" height="12.33" fill="#2d728e"/><rect x="58.33" y="16.67" width="29" height="12.33" fill="#21938b"/><rect x="83.33" y="16.67" width="12.33" height="12.33" fill="#31b27b"/><rect x="91.67" y="16.67" width="20.33" height="12.33" fill="#2d728e"/><rect x="-12" y="25" width="24.33" height="12.33" fill="#21938b"/><rect x="8.33" y="25" width="37.33" height="12.33" fill="#2d728e"/><rect x="41.67" y="25" width="12.33" height="12.33" fill="#21938b"/><rect x="50" y="25" width="20.67" height="12.33" fill="#2d728e"/><rect x="66.67" y="25" width="29" height="12.33" fill="#21938b"/><rect x="91.67" y="25" width="20.33" height="12.33" fill="#2d728e"/><rect x="-12" y="33.33" width="24.33" height="12.33" fill="#21938b"/><rect x="8.33" y="33.33" width="37.33" height="12.33" fill="#2d728e"/><rect x="41.67" y="33.33" width="12.33" height="12.33" fill="#21938b"/><rect x="50" y="33.33" width="20.67" height="12.33" fill="#2d728e"/><rect x="66.67" y="33.33" width="20.67" height="12.33" fill="#21938b"/><rect x="83.33" y="33.33" width="28.67" height="12.33" fill="#2d728e"/><rect x="-12" y="41.67" width="24.33" height="12.33" fill="#31b27b"/><rect x="8.33" y="41.67" width="20.67" height="12.33" fill="#2d728e"/><rect x="25" y="41.67" width="12.33" height="12.33" fill="#21938b"/><rect x="33.33" y="41.67" width="12.33" height="12.33" fill="#2d728e"/><rect x="41.67" y="41.67" width="20.67" height="12.33" fill="#21938b"/><rect x="58.33" y="41.67" width="20.67" height="12.33" fill="#2d728e"/><rect x="75" y="41.67" width="12.33" height="12.33" fill="#21938b"/><rect x="83.33" y="41.67" width="28.67" height="12.33" fill="#2d728e"/><rect x="-12" y="50" width="24.33" height="12.33" fill="#21938b"/><rect x="8.33" y="50" width="12.33" height="12.33" fill="#31b27b"/><rect x="16.67" y="50" width="12.33" height="12.33" fill="#21938b"/><rect x="25" y="50" width="12.33" height="12.33" fill="#2d728e"/><rect x="33.33" y="50" width="20.67" height="12.33" fill="#21938b"/><rect x="50" y="50" width="12.33" height="12.33" fill="#2d728e"/><rect x="58.33" y="50" width="12.33" height="12.33" fill="#3c4f89"/><rect x="66.67" y="50" width="12.33" height="12.33" fill="#2d728e"/><rect x="75" y="50" width="12.33" height="12.33" fill="#21938b"/><rect x="83.33" y="50" width="28.67" height="12.33" fill="#2d728e"/><rect x="-12" y="58.33" width="32.67" height="12.33" fill="#31b27b"/><rect x="16.67" y="58.33" width="20.67" height="12.33" fill="#2d728e"/><rect x="33.33" y="58.33" width="20.67" height="12.33" fill="#21938b"/><rect x="50" y="58.33" width="29" height="12.33" fill="#2d728e"/><rect x="75" y="58.33" width="12.33" height="12.33" fill="#21938b"/><rect x="83.33" y="58.33" width="28.67" height="12.33" fill="#2d728e"/><rect x="-12" y="66.67" width="32.67" height="12.33" fill="#31b27b"/><rect x="16.67" y="66.67" width="12.33" height="12.33" fill="#21938b"/><rect x="25" y="66.67" width="12.33" height="12.33" fill="#2d728e"/><rect x="33.33" y="66.67" width="62.33" height="12.33" fill="#21938b"/><rect x="91.67" y="66.67" width="20.33" height="12.33" fill="#2d728e"/><rect x="-12" y="75" width="41" height="12.33" fill="#31b27b"/><rect x="25" y="75" width="12.33" height="12.33" fill="#2d728e"/><rect x="33.33" y="75" width="20.67" height="12.33" fill="#21938b"/><rect x="50" y="75" width="12.33" height="12.33" fill="#31b27b"/><rect x="58.33" y="75" width="20.67" height="12.33" fill="#21938b"/><rect x="75" y="75" width="12.33" height="12.33" fill="#2d728e"/><rect x="83.33" y="75" width="28.67" height="12.33" fill="#21938b"/><rect x="-12" y="83.33" width="41" height="12.33" fill="#31b27b"/><rect x="25" y="83.33" width="29" height="12.33" fill="#21938b"/><rect x="50" y="83.33" width="20.67" height="12.33" fill="#31b27b"/><rect x="66.67" y="83.33" width="45.33" height="12.33" fill="#21938b"/><rect x="-12" y="91.67" width="32.67" height="20.33" fill="#31b27b"/><rect x="16.67" y="91.67" width="12.33" height="20.33" fill="#21938b"/><rect x="25" y="91.67" width="12.33" height="20.33" fill="#31b27b"/><rect x="33.33" y="91.67" width="12.33" height="20.33" fill="#21938b"/><rect x="41.67" y="91.67" width="20.67" height="20.33" fill="#31b27b"/><rect x="58.33" y="91.67" width="12.33" height="20.33" fill="#21938b"/><rect x="66.67" y="91.67" width="12.33" height="20.33" fill="#31b27b"/><rect x="75" y="91.67" width="12.33" height="20.33" fill="#21938b"/><rect x="83.33" y="91.67" width="28.67" height="20.33" fill="#31b27b"/><path d="M30 8 L36 16 L42 25" stroke="#6fcd57" stroke-width="8.4" fill="none" stroke-linecap="round" stroke-linejoin="round"/><path d="M16 6 L22 12" stroke="#52c468" stroke-width="7.8" fill="none" stroke-linecap="round" stroke-linejoin="round"/><path d="M40 30 L42 40 L43 48" stroke="#c7e026" stroke-width="9" fill="none" stroke-linecap="round" stroke-linejoin="round"/><path d="M68 12 L74 28 L80 45" stroke="#88d448" stroke-width="8.4" fill="none" stroke-linecap="round" stroke-linejoin="round"/><path d="M60 15 L57 34 L55 50" stroke="#61c960" stroke-width="8.4" fill="none" stroke-linecap="round" stroke-linejoin="round"/><path d="M85 15 L84 50" stroke="#61c960" stroke-width="7.8" fill="none" stroke-linecap="round" stroke-linejoin="round"/><path d="M45 75 L50 87" stroke="#a3da37" stroke-width="9" fill="none" stroke-linecap="round" stroke-linejoin="round"/><path d="M12 25 L25 45" stroke="#44bf70" stroke-width="9" fill="none" stroke-linecap="round" stroke-linejoin="round"/><path d="M20 28 L13 42" stroke="#3ab976" stroke-width="7.8" fill="none" stroke-linecap="round" stroke-linejoin="round"/><path d="M27 45 L34 60" stroke="#fae725" stroke-width="10.2" fill="none" stroke-linecap="round" stroke-linejoin="round"/><path d="M92 20 L94 60" stroke="#3ab976" stroke-width="7.2" fill="none" stroke-linecap="round" stroke-linejoin="round"/><path d="M66 40 L70 56" stroke="#44bf70" stroke-width="7.8" fill="none" stroke-linecap="round" stroke-linejoin="round"/><path d="M84 84 L88 90" stroke="#52c468" stroke-width="7.8" fill="none" stroke-linecap="round" stroke-linejoin="round"/><path d="M4.8 17 L3.8 32 L4.2 47" stroke="#fde725" stroke-width="9" fill="none" stroke-linecap="round" stroke-linejoin="round"/><path d="M4.6 22 L3.8 32 L4 42" stroke="#fde725" stroke-width="6.6" fill="none" stroke-linecap="round" stroke-linejoin="round"/><path d="M35 58 L36.5 72 L36 85" stroke="#fde725" stroke-width="9.6" fill="none" stroke-linecap="round" stroke-linejoin="round"/><path d="M35.6 62 L36.5 72 L36.2 80" stroke="#fde725" stroke-width="7.2" fill="none" stroke-linecap="round" stroke-linejoin="round"/><path d="M74 47 L76 65 L73 81" stroke="#fde725" stroke-width="9" fill="none" stroke-linecap="round" stroke-linejoin="round"/><path d="M74.8 53 L76 65 L74 77" stroke="#fde725" stroke-width="6.6" fill="none" stroke-linecap="round" stroke-linejoin="round"/><path d="M86 55 L88 78" stroke="#fde725" stroke-width="8.4" fill="none" stroke-linecap="round" stroke-linejoin="round"/><path d="M86.4 60 L87.6 74" stroke="#fde725" stroke-width="6" fill="none" stroke-linecap="round" stroke-linejoin="round"/></g></svg>
<svg x="542.2" y="228.9" width="33.4" height="32.8" viewBox="0 0 100 100" preserveAspectRatio="none"><g filter="url(#nz9)"><rect x="-12" y="-12" width="32.67" height="24.33" fill="#2a788e"/><rect x="16.67" y="-12" width="20.67" height="24.33" fill="#219989"/><rect x="33.33" y="-12" width="12.33" height="24.33" fill="#2a788e"/><rect x="41.67" y="-12" width="20.67" height="24.33" fill="#39568b"/><rect x="58.33" y="-12" width="12.33" height="24.33" fill="#2a788e"/><rect x="66.67" y="-12" width="20.67" height="24.33" fill="#219989"/><rect x="83.33" y="-12" width="28.67" height="24.33" fill="#2a788e"/><rect x="-12" y="8.33" width="24.33" height="12.33" fill="#219989"/><rect x="8.33" y="8.33" width="45.67" height="12.33" fill="#2a788e"/><rect x="50" y="8.33" width="12.33" height="12.33" fill="#39568b"/><rect x="58.33" y="8.33" width="12.33" height="12.33" fill="#2a788e"/><rect x="66.67" y="8.33" width="12.33" height="12.33" fill="#219989"/><rect x="75" y="8.33" width="12.33" height="12.33" fill="#2a788e"/><rect x="83.33" y="8.33" width="12.33" height="12.33" fill="#219989"/><rect x="91.67" y="8.33" width="20.33" height="12.33" fill="#2a788e"/><rect x="-12" y="16.67" width="24.33" height="12.33" fill="#219989"/><rect x="8.33" y="16.67" width="12.33" height="12.33" fill="#2a788e"/><rect x="16.67" y="16.67" width="20.67" height="12.33" fill="#39568b"/><rect x="33.33" y="16.67" width="20.67" height="12.33" fill="#2a788e"/><rect x="50" y="16.67" width="12.33" height="12.33" fill="#39568b"/><rect x="58.33" y="16.67" width="29" height="12.33" fill="#2a788e"/><rect x="83.33" y="16.67" width="12.33" height="12.33" fill="#219989"/><rect x="91.67" y="16.67" width="20.33" height="12.33" fill="#39568b"/><rect x="-12" y="25" width="24.33" height="12.33" fill="#2a788e"/><rect x="8.33" y="25" width="37.33" height="12.33" fill="#39568b"/><rect x="41.67" y="25" width="12.33" height="12.33" fill="#2a788e"/><rect x="50" y="25" width="20.67" height="12.33" fill="#39568b"/><rect x="66.67" y="25" width="29" height="12.33" fill="#2a788e"/><rect x="91.67" y="25" width="20.33" height="12.33" fill="#39568b"/><rect x="-12" y="33.33" width="24.33" height="12.33" fill="#2a788e"/><rect x="8.33" y="33.33" width="37.33" height="12.33" fill="#39568b"/><rect x="41.67" y="33.33" width="12.33" height="12.33" fill="#2a788e"/><rect x="50" y="33.33" width="20.67" height="12.33" fill="#39568b"/><rect x="66.67" y="33.33" width="20.67" height="12.33" fill="#2a788e"/><rect x="83.33" y="33.33" width="28.67" height="12.33" fill="#39568b"/><rect x="-12" y="41.67" width="24.33" height="12.33" fill="#219989"/><rect x="8.33" y="41.67" width="20.67" height="12.33" fill="#39568b"/><rect x="25" y="41.67" width="12.33" height="12.33" fill="#2a788e"/><rect x="33.33" y="41.67" width="12.33" height="12.33" fill="#39568b"/><rect x="41.67" y="41.67" width="20.67" height="12.33" fill="#2a788e"/><rect x="58.33" y="41.67" width="20.67" height="12.33" fill="#39568b"/><rect x="75" y="41.67" width="12.33" height="12.33" fill="#2a788e"/><rect x="83.33" y="41.67" width="28.67" height="12.33" fill="#39568b"/><rect x="-12" y="50" width="24.33" height="12.33" fill="#2a788e"/><rect x="8.33" y="50" width="12.33" height="12.33" fill="#219989"/><rect x="16.67" y="50" width="12.33" height="12.33" fill="#2a788e"/><rect x="25" y="50" width="12.33" height="12.33" fill="#39568b"/><rect x="33.33" y="50" width="20.67" height="12.33" fill="#2a788e"/><rect x="50" y="50" width="12.33" height="12.33" fill="#39568b"/><rect x="58.33" y="50" width="12.33" height="12.33" fill="#462e7a"/><rect x="66.67" y="50" width="12.33" height="12.33" fill="#39568b"/><rect x="75" y="50" width="12.33" height="12.33" fill="#2a788e"/><rect x="83.33" y="50" width="28.67" height="12.33" fill="#39568b"/><rect x="-12" y="58.33" width="32.67" height="12.33" fill="#219989"/><rect x="16.67" y="58.33" width="20.67" height="12.33" fill="#39568b"/><rect x="33.33" y="58.33" width="20.67" height="12.33" fill="#2a788e"/><rect x="50" y="58.33" width="29" height="12.33" fill="#39568b"/><rect x="75" y="58.33" width="12.33" height="12.33" fill="#2a788e"/><rect x="83.33" y="58.33" width="28.67" height="12.33" fill="#39568b"/><rect x="-12" y="66.67" width="32.67" height="12.33" fill="#219989"/><rect x="16.67" y="66.67" width="12.33" height="12.33" fill="#2a788e"/><rect x="25" y="66.67" width="12.33" height="12.33" fill="#39568b"/><rect x="33.33" y="66.67" width="62.33" height="12.33" fill="#2a788e"/><rect x="91.67" y="66.67" width="20.33" height="12.33" fill="#39568b"/><rect x="-12" y="75" width="41" height="12.33" fill="#219989"/><rect x="25" y="75" width="12.33" height="12.33" fill="#39568b"/><rect x="33.33" y="75" width="20.67" height="12.33" fill="#2a788e"/><rect x="50" y="75" width="12.33" height="12.33" fill="#219989"/><rect x="58.33" y="75" width="20.67" height="12.33" fill="#2a788e"/><rect x="75" y="75" width="12.33" height="12.33" fill="#39568b"/><rect x="83.33" y="75" width="28.67" height="12.33" fill="#2a788e"/><rect x="-12" y="83.33" width="41" height="12.33" fill="#219989"/><rect x="25" y="83.33" width="29" height="12.33" fill="#2a788e"/><rect x="50" y="83.33" width="20.67" height="12.33" fill="#219989"/><rect x="66.67" y="83.33" width="45.33" height="12.33" fill="#2a788e"/><rect x="-12" y="91.67" width="32.67" height="20.33" fill="#219989"/><rect x="16.67" y="91.67" width="12.33" height="20.33" fill="#2a788e"/><rect x="25" y="91.67" width="12.33" height="20.33" fill="#219989"/><rect x="33.33" y="91.67" width="12.33" height="20.33" fill="#2a788e"/><rect x="41.67" y="91.67" width="20.67" height="20.33" fill="#219989"/><rect x="58.33" y="91.67" width="12.33" height="20.33" fill="#2a788e"/><rect x="66.67" y="91.67" width="12.33" height="20.33" fill="#219989"/><rect x="75" y="91.67" width="12.33" height="20.33" fill="#2a788e"/><rect x="83.33" y="91.67" width="28.67" height="20.33" fill="#219989"/><path d="M30 8 L36 16 L42 25" stroke="#3ab876" stroke-width="7.28" fill="none" stroke-linecap="round" stroke-linejoin="round"/><path d="M16 6 L22 12" stroke="#27ac81" stroke-width="6.76" fill="none" stroke-linecap="round" stroke-linejoin="round"/><path d="M40 30 L42 40 L43 48" stroke="#7dd24f" stroke-width="7.8" fill="none" stroke-linecap="round" stroke-linejoin="round"/><path d="M68 12 L74 28 L80 45" stroke="#4ac16d" stroke-width="7.28" fill="none" stroke-linecap="round" stroke-linejoin="round"/><path d="M60 15 L57 34 L55 50" stroke="#31b27b" stroke-width="7.28" fill="none" stroke-linecap="round" stroke-linejoin="round"/><path d="M85 15 L84 50" stroke="#31b27b" stroke-width="6.76" fill="none" stroke-linecap="round" stroke-linejoin="round"/><path d="M45 75 L50 87" stroke="#60c860" stroke-width="7.8" fill="none" stroke-linecap="round" stroke-linejoin="round"/><path d="M12 25 L25 45" stroke="#22a585" stroke-width="7.8" fill="none" stroke-linecap="round" stroke-linejoin="round"/><path d="M20 28 L13 42" stroke="#229f87" stroke-width="6.76" fill="none" stroke-linecap="round" stroke-linejoin="round"/><path d="M27 45 L34 60" stroke="#b4dd2c" stroke-width="8.84" fill="none" stroke-linecap="round" stroke-linejoin="round"/><path d="M92 20 L94 60" stroke="#229f87" stroke-width="6.24" fill="none" stroke-linecap="round" stroke-linejoin="round"/><path d="M66 40 L70 56" stroke="#22a585" stroke-width="6.76" fill="none" stroke-linecap="round" stroke-linejoin="round"/><path d="M84 84 L88 90" stroke="#27ac81" stroke-width="6.76" fill="none" stroke-linecap="round" stroke-linejoin="round"/><path d="M4.8 17 L3.8 32 L4.2 47" stroke="#fde725" stroke-width="7.8" fill="none" stroke-linecap="round" stroke-linejoin="round"/><path d="M4.6 22 L3.8 32 L4 42" stroke="#fde725" stroke-width="5.72" fill="none" stroke-linecap="round" stroke-linejoin="round"/><path d="M35 58 L36.5 72 L36 85" stroke="#fde725" stroke-width="8.32" fill="none" stroke-linecap="round" stroke-linejoin="round"/><path d="M35.6 62 L36.5 72 L36.2 80" stroke="#fde725" stroke-width="6.24" fill="none" stroke-linecap="round" stroke-linejoin="round"/><path d="M74 47 L76 65 L73 81" stroke="#fde725" stroke-width="7.8" fill="none" stroke-linecap="round" stroke-linejoin="round"/><path d="M74.8 53 L76 65 L74 77" stroke="#fde725" stroke-width="5.72" fill="none" stroke-linecap="round" stroke-linejoin="round"/><path d="M86 55 L88 78" stroke="#fde725" stroke-width="7.28" fill="none" stroke-linecap="round" stroke-linejoin="round"/><path d="M86.4 60 L87.6 74" stroke="#fde725" stroke-width="5.2" fill="none" stroke-linecap="round" stroke-linejoin="round"/></g></svg>
<svg x="404.4" y="300" width="33.4" height="32.2" viewBox="0 0 100 100" preserveAspectRatio="none"><g filter="url(#nz10)"><rect x="-12" y="-12" width="32.67" height="24.33" fill="#3ab876"/><rect x="16.67" y="-12" width="12.33" height="24.33" fill="#22a884"/><rect x="25" y="-12" width="12.33" height="24.33" fill="#3ab876"/><rect x="33.33" y="-12" width="12.33" height="24.33" fill="#22a884"/><rect x="41.67" y="-12" width="12.33" height="24.33" fill="#3ab876"/><rect x="50" y="-12" width="12.33" height="24.33" fill="#22a884"/><rect x="58.33" y="-12" width="20.67" height="24.33" fill="#3ab876"/><rect x="75" y="-12" width="12.33" height="24.33" fill="#22a884"/><rect x="83.33" y="-12" width="28.67" height="24.33" fill="#3ab876"/><rect x="-12" y="8.33" width="24.33" height="12.33" fill="#3ab876"/><rect x="8.33" y="8.33" width="87.33" height="12.33" fill="#22a884"/><rect x="91.67" y="8.33" width="20.33" height="12.33" fill="#3ab876"/><rect x="-12" y="16.67" width="24.33" height="12.33" fill="#3ab876"/><rect x="8.33" y="16.67" width="12.33" height="12.33" fill="#22a884"/><rect x="16.67" y="16.67" width="12.33" height="12.33" fill="#21988a"/><rect x="25" y="16.67" width="70.67" height="12.33" fill="#22a884"/><rect x="91.67" y="16.67" width="20.33" height="12.33" fill="#3ab876"/><rect x="-12" y="25" width="24.33" height="12.33" fill="#3ab876"/><rect x="8.33" y="25" width="103.67" height="12.33" fill="#22a884"/><rect x="-12" y="33.33" width="24.33" height="12.33" fill="#3ab876"/><rect x="8.33" y="33.33" width="20.67" height="12.33" fill="#22a884"/><rect x="25" y="33.33" width="12.33" height="12.33" fill="#21988a"/><rect x="33.33" y="33.33" width="78.67" height="12.33" fill="#22a884"/><rect x="-12" y="41.67" width="24.33" height="12.33" fill="#3ab876"/><rect x="8.33" y="41.67" width="29" height="12.33" fill="#22a884"/><rect x="33.33" y="41.67" width="12.33" height="12.33" fill="#21988a"/><rect x="41.67" y="41.67" width="70.33" height="12.33" fill="#22a884"/><rect x="-12" y="50" width="24.33" height="12.33" fill="#3ab876"/><rect x="8.33" y="50" width="45.67" height="12.33" fill="#22a884"/><rect x="50" y="50" width="12.33" height="12.33" fill="#3ab876"/><rect x="58.33" y="50" width="53.67" height="12.33" fill="#22a884"/><rect x="-12" y="58.33" width="24.33" height="12.33" fill="#3ab876"/><rect x="8.33" y="58.33" width="45.67" height="12.33" fill="#22a884"/><rect x="50" y="58.33" width="20.67" height="12.33" fill="#3ab876"/><rect x="66.67" y="58.33" width="45.33" height="12.33" fill="#22a884"/><rect x="-12" y="66.67" width="24.33" height="12.33" fill="#3ab876"/><rect x="8.33" y="66.67" width="103.67" height="12.33" fill="#22a884"/><rect x="-12" y="75" width="24.33" height="12.33" fill="#3ab876"/><rect x="8.33" y="75" width="103.67" height="12.33" fill="#22a884"/><rect x="-12" y="83.33" width="24.33" height="12.33" fill="#3ab876"/><rect x="8.33" y="83.33" width="87.33" height="12.33" fill="#22a884"/><rect x="91.67" y="83.33" width="20.33" height="12.33" fill="#3ab876"/><rect x="-12" y="91.67" width="24.33" height="20.33" fill="#22a884"/><rect x="8.33" y="91.67" width="12.33" height="20.33" fill="#3ab876"/><rect x="16.67" y="91.67" width="12.33" height="20.33" fill="#22a884"/><rect x="25" y="91.67" width="12.33" height="20.33" fill="#3ab876"/><rect x="33.33" y="91.67" width="12.33" height="20.33" fill="#22a884"/><rect x="41.67" y="91.67" width="12.33" height="20.33" fill="#3ab876"/><rect x="50" y="91.67" width="12.33" height="20.33" fill="#22a884"/><rect x="58.33" y="91.67" width="12.33" height="20.33" fill="#3ab876"/><rect x="66.67" y="91.67" width="12.33" height="20.33" fill="#22a884"/><rect x="75" y="91.67" width="12.33" height="20.33" fill="#3ab876"/><rect x="83.33" y="91.67" width="12.33" height="20.33" fill="#22a884"/><rect x="91.67" y="91.67" width="20.33" height="20.33" fill="#3ab876"/><path d="M7 12 L8 30 L9 52" stroke="#287c8e" stroke-width="4.08" fill="none" stroke-linecap="round" stroke-linejoin="round"/><path d="M13 30 L14 62" stroke="#228e8c" stroke-width="2.88" fill="none" stroke-linecap="round" stroke-linejoin="round"/><path d="M17 18 L20 46" stroke="#26848d" stroke-width="3.84" fill="none" stroke-linecap="round" stroke-linejoin="round"/><path d="M22 18 L36 52 L50 86" stroke="#26848d" stroke-width="4.32" fill="none" stroke-linecap="round" stroke-linejoin="round"/><path d="M30 45 L33 72" stroke="#25878d" stroke-width="3.84" fill="none" stroke-linecap="round" stroke-linejoin="round"/><path d="M26 10 L28 30" stroke="#21918c" stroke-width="3.12" fill="none" stroke-linecap="round" stroke-linejoin="round"/><path d="M42 58 L43 86" stroke="#27808d" stroke-width="3.84" fill="none" stroke-linecap="round" stroke-linejoin="round"/><path d="M48 76 L52 92" stroke="#30698d" stroke-width="7.8" fill="none" stroke-linecap="round" stroke-linejoin="round"/><path d="M78 44 L80 86" stroke="#30698d" stroke-width="4.32" fill="none" stroke-linecap="round" stroke-linejoin="round"/><path d="M87 22 L90 72" stroke="#2c748e" stroke-width="4.32" fill="none" stroke-linecap="round" stroke-linejoin="round"/><path d="M93 48 L94 82" stroke="#287c8e" stroke-width="3.36" fill="none" stroke-linecap="round" stroke-linejoin="round"/><path d="M70 38 L71 82" stroke="#25878d" stroke-width="3.36" fill="none" stroke-linecap="round" stroke-linejoin="round"/><path d="M60 8 L62 42" stroke="#21918c" stroke-width="3.36" fill="none" stroke-linecap="round" stroke-linejoin="round"/><path d="M52 12 L50 42" stroke="#21958b" stroke-width="3.36" fill="none" stroke-linecap="round" stroke-linejoin="round"/><path d="M40 12 L41 36" stroke="#21958b" stroke-width="2.88" fill="none" stroke-linecap="round" stroke-linejoin="round"/><path d="M66 14 L67 34" stroke="#21988a" stroke-width="2.88" fill="none" stroke-linecap="round" stroke-linejoin="round"/><path d="M82 10 L82 30" stroke="#21958b" stroke-width="2.88" fill="none" stroke-linecap="round" stroke-linejoin="round"/><path d="M36 77 L37 89" stroke="#bedf26" stroke-width="2.64" fill="none" stroke-linecap="round" stroke-linejoin="round"/><path d="M84.5 18 L85.5 46" stroke="#81d24d" stroke-width="2.4" fill="none" stroke-linecap="round" stroke-linejoin="round"/><path d="M75 58 L76 76" stroke="#78d052" stroke-width="2.88" fill="none" stroke-linecap="round" stroke-linejoin="round"/><path d="M50 59 L60 60" stroke="#61c95f" stroke-width="3.36" fill="none" stroke-linecap="round" stroke-linejoin="round"/><path d="M45 50 L56 51" stroke="#56c566" stroke-width="2.88" fill="none" stroke-linecap="round" stroke-linejoin="round"/><path d="M10 6 L30 7" stroke="#52c468" stroke-width="2.88" fill="none" stroke-linecap="round" stroke-linejoin="round"/><path d="M50 3 L58 3" stroke="#6ccc59" stroke-width="2.88" fill="none" stroke-linecap="round" stroke-linejoin="round"/></g></svg>
<svg x="542.8" y="297.8" width="33.3" height="32.8" viewBox="0 0 100 100" preserveAspectRatio="none"><g filter="url(#nz11)"><rect x="-12" y="-12" width="32.67" height="24.33" fill="#30b17c"/><rect x="16.67" y="-12" width="12.33" height="24.33" fill="#22a186"/><rect x="25" y="-12" width="12.33" height="24.33" fill="#30b17c"/><rect x="33.33" y="-12" width="12.33" height="24.33" fill="#22a186"/><rect x="41.67" y="-12" width="12.33" height="24.33" fill="#30b17c"/><rect x="50" y="-12" width="12.33" height="24.33" fill="#22a186"/><rect x="58.33" y="-12" width="20.67" height="24.33" fill="#30b17c"/><rect x="75" y="-12" width="12.33" height="24.33" fill="#22a186"/><rect x="83.33" y="-12" width="28.67" height="24.33" fill="#30b17c"/><rect x="-12" y="8.33" width="24.33" height="12.33" fill="#30b17c"/><rect x="8.33" y="8.33" width="87.33" height="12.33" fill="#22a186"/><rect x="91.67" y="8.33" width="20.33" height="12.33" fill="#30b17c"/><rect x="-12" y="16.67" width="24.33" height="12.33" fill="#30b17c"/><rect x="8.33" y="16.67" width="12.33" height="12.33" fill="#22a186"/><rect x="16.67" y="16.67" width="12.33" height="12.33" fill="#21918c"/><rect x="25" y="16.67" width="70.67" height="12.33" fill="#22a186"/><rect x="91.67" y="16.67" width="20.33" height="12.33" fill="#30b17c"/><rect x="-12" y="25" width="24.33" height="12.33" fill="#30b17c"/><rect x="8.33" y="25" width="103.67" height="12.33" fill="#22a186"/><rect x="-12" y="33.33" width="24.33" height="12.33" fill="#30b17c"/><rect x="8.33" y="33.33" width="20.67" height="12.33" fill="#22a186"/><rect x="25" y="33.33" width="12.33" height="12.33" fill="#21918c"/><rect x="33.33" y="33.33" width="78.67" height="12.33" fill="#22a186"/><rect x="-12" y="41.67" width="24.33" height="12.33" fill="#30b17c"/><rect x="8.33" y="41.67" width="29" height="12.33" fill="#22a186"/><rect x="33.33" y="41.67" width="12.33" height="12.33" fill="#21918c"/><rect x="41.67" y="41.67" width="70.33" height="12.33" fill="#22a186"/><rect x="-12" y="50" width="24.33" height="12.33" fill="#30b17c"/><rect x="8.33" y="50" width="45.67" height="12.33" fill="#22a186"/><rect x="50" y="50" width="12.33" height="12.33" fill="#30b17c"/><rect x="58.33" y="50" width="53.67" height="12.33" fill="#22a186"/><rect x="-12" y="58.33" width="24.33" height="12.33" fill="#30b17c"/><rect x="8.33" y="58.33" width="45.67" height="12.33" fill="#22a186"/><rect x="50" y="58.33" width="20.67" height="12.33" fill="#30b17c"/><rect x="66.67" y="58.33" width="45.33" height="12.33" fill="#22a186"/><rect x="-12" y="66.67" width="24.33" height="12.33" fill="#30b17c"/><rect x="8.33" y="66.67" width="103.67" height="12.33" fill="#22a186"/><rect x="-12" y="75" width="24.33" height="12.33" fill="#30b17c"/><rect x="8.33" y="75" width="103.67" height="12.33" fill="#22a186"/><rect x="-12" y="83.33" width="24.33" height="12.33" fill="#30b17c"/><rect x="8.33" y="83.33" width="87.33" height="12.33" fill="#22a186"/><rect x="91.67" y="83.33" width="20.33" height="12.33" fill="#30b17c"/><rect x="-12" y="91.67" width="24.33" height="20.33" fill="#22a186"/><rect x="8.33" y="91.67" width="12.33" height="20.33" fill="#30b17c"/><rect x="16.67" y="91.67" width="12.33" height="20.33" fill="#22a186"/><rect x="25" y="91.67" width="12.33" height="20.33" fill="#30b17c"/><rect x="33.33" y="91.67" width="12.33" height="20.33" fill="#22a186"/><rect x="41.67" y="91.67" width="12.33" height="20.33" fill="#30b17c"/><rect x="50" y="91.67" width="12.33" height="20.33" fill="#22a186"/><rect x="58.33" y="91.67" width="12.33" height="20.33" fill="#30b17c"/><rect x="66.67" y="91.67" width="12.33" height="20.33" fill="#22a186"/><rect x="75" y="91.67" width="12.33" height="20.33" fill="#30b17c"/><rect x="83.33" y="91.67" width="12.33" height="20.33" fill="#22a186"/><rect x="91.67" y="91.67" width="20.33" height="20.33" fill="#30b17c"/><path d="M7 12 L8 30 L9 52" stroke="#2b758e" stroke-width="4.08" fill="none" stroke-linecap="round" stroke-linejoin="round"/><path d="M13 30 L14 62" stroke="#25868d" stroke-width="2.88" fill="none" stroke-linecap="round" stroke-linejoin="round"/><path d="M17 18 L20 46" stroke="#297c8e" stroke-width="3.84" fill="none" stroke-linecap="round" stroke-linejoin="round"/><path d="M22 18 L36 52 L50 86" stroke="#297c8e" stroke-width="4.32" fill="none" stroke-linecap="round" stroke-linejoin="round"/><path d="M30 45 L33 72" stroke="#27808d" stroke-width="3.84" fill="none" stroke-linecap="round" stroke-linejoin="round"/><path d="M26 10 L28 30" stroke="#248a8d" stroke-width="3.12" fill="none" stroke-linecap="round" stroke-linejoin="round"/><path d="M42 58 L43 86" stroke="#2a788e" stroke-width="3.84" fill="none" stroke-linecap="round" stroke-linejoin="round"/><path d="M48 76 L52 92" stroke="#34628d" stroke-width="7.8" fill="none" stroke-linecap="round" stroke-linejoin="round"/><path d="M78 44 L80 86" stroke="#34628d" stroke-width="4.32" fill="none" stroke-linecap="round" stroke-linejoin="round"/><path d="M87 22 L90 72" stroke="#2f6c8e" stroke-width="4.32" fill="none" stroke-linecap="round" stroke-linejoin="round"/><path d="M93 48 L94 82" stroke="#2b758e" stroke-width="3.36" fill="none" stroke-linecap="round" stroke-linejoin="round"/><path d="M70 38 L71 82" stroke="#27808d" stroke-width="3.36" fill="none" stroke-linecap="round" stroke-linejoin="round"/><path d="M60 8 L62 42" stroke="#248a8d" stroke-width="3.36" fill="none" stroke-linecap="round" stroke-linejoin="round"/><path d="M52 12 L50 42" stroke="#228e8c" stroke-width="3.36" fill="none" stroke-linecap="round" stroke-linejoin="round"/><path d="M40 12 L41 36" stroke="#228e8c" stroke-width="2.88" fill="none" stroke-linecap="round" stroke-linejoin="round"/><path d="M66 14 L67 34" stroke="#21918c" stroke-width="2.88" fill="none" stroke-linecap="round" stroke-linejoin="round"/><path d="M82 10 L82 30" stroke="#228e8c" stroke-width="2.88" fill="none" stroke-linecap="round" stroke-linejoin="round"/><path d="M36 77 L37 89" stroke="#aadb32" stroke-width="2.64" fill="none" stroke-linecap="round" stroke-linejoin="round"/><path d="M84.5 18 L85.5 46" stroke="#6fcd57" stroke-width="2.4" fill="none" stroke-linecap="round" stroke-linejoin="round"/><path d="M75 58 L76 76" stroke="#68cb5c" stroke-width="2.88" fill="none" stroke-linecap="round" stroke-linejoin="round"/><path d="M50 59 L60 60" stroke="#51c369" stroke-width="3.36" fill="none" stroke-linecap="round" stroke-linejoin="round"/><path d="M45 50 L56 51" stroke="#46c06f" stroke-width="2.88" fill="none" stroke-linecap="round" stroke-linejoin="round"/><path d="M10 6 L30 7" stroke="#43be71" stroke-width="2.88" fill="none" stroke-linecap="round" stroke-linejoin="round"/><path d="M50 3 L58 3" stroke="#5cc762" stroke-width="2.88" fill="none" stroke-linecap="round" stroke-linejoin="round"/></g></svg>
<svg x="405.6" y="363.3" width="32.2" height="32.3" viewBox="0 0 100 100" preserveAspectRatio="none"><g filter="url(#nz12)"><rect x="-12" y="-12" width="32.67" height="24.33" fill="#fde725"/><rect x="16.67" y="-12" width="12.33" height="24.33" fill="#cde126"/><rect x="25" y="-12" width="12.33" height="24.33" fill="#fde725"/><rect x="33.33" y="-12" width="12.33" height="24.33" fill="#cde126"/><rect x="41.67" y="-12" width="12.33" height="24.33" fill="#fde725"/><rect x="50" y="-12" width="12.33" height="24.33" fill="#cde126"/><rect x="58.33" y="-12" width="20.67" height="24.33" fill="#fde725"/><rect x="75" y="-12" width="12.33" height="24.33" fill="#cde126"/><rect x="83.33" y="-12" width="28.67" height="24.33" fill="#fde725"/><rect x="-12" y="8.33" width="24.33" height="12.33" fill="#fde725"/><rect x="8.33" y="8.33" width="87.33" height="12.33" fill="#cde126"/><rect x="91.67" y="8.33" width="20.33" height="12.33" fill="#fde725"/><rect x="-12" y="16.67" width="24.33" height="12.33" fill="#fde725"/><rect x="8.33" y="16.67" width="12.33" height="12.33" fill="#cde126"/><rect x="16.67" y="16.67" width="12.33" height="12.33" fill="#9cd83c"/><rect x="25" y="16.67" width="70.67" height="12.33" fill="#cde126"/><rect x="91.67" y="16.67" width="20.33" height="12.33" fill="#fde725"/><rect x="-12" y="25" width="24.33" height="12.33" fill="#fde725"/><rect x="8.33" y="25" width="103.67" height="12.33" fill="#cde126"/><rect x="-12" y="33.33" width="24.33" height="12.33" fill="#fde725"/><rect x="8.33" y="33.33" width="20.67" height="12.33" fill="#cde126"/><rect x="25" y="33.33" width="12.33" height="12.33" fill="#9cd83c"/><rect x="33.33" y="33.33" width="78.67" height="12.33" fill="#cde126"/><rect x="-12" y="41.67" width="24.33" height="12.33" fill="#fde725"/><rect x="8.33" y="41.67" width="29" height="12.33" fill="#cde126"/><rect x="33.33" y="41.67" width="12.33" height="12.33" fill="#9cd83c"/><rect x="41.67" y="41.67" width="70.33" height="12.33" fill="#cde126"/><rect x="-12" y="50" width="24.33" height="12.33" fill="#fde725"/><rect x="8.33" y="50" width="45.67" height="12.33" fill="#cde126"/><rect x="50" y="50" width="12.33" height="12.33" fill="#fde725"/><rect x="58.33" y="50" width="53.67" height="12.33" fill="#cde126"/><rect x="-12" y="58.33" width="24.33" height="12.33" fill="#fde725"/><rect x="8.33" y="58.33" width="45.67" height="12.33" fill="#cde126"/><rect x="50" y="58.33" width="20.67" height="12.33" fill="#fde725"/><rect x="66.67" y="58.33" width="45.33" height="12.33" fill="#cde126"/><rect x="-12" y="66.67" width="24.33" height="12.33" fill="#fde725"/><rect x="8.33" y="66.67" width="103.67" height="12.33" fill="#cde126"/><rect x="-12" y="75" width="24.33" height="12.33" fill="#fde725"/><rect x="8.33" y="75" width="103.67" height="12.33" fill="#cde126"/><rect x="-12" y="83.33" width="24.33" height="12.33" fill="#fde725"/><rect x="8.33" y="83.33" width="87.33" height="12.33" fill="#cde126"/><rect x="91.67" y="83.33" width="20.33" height="12.33" fill="#fde725"/><rect x="-12" y="91.67" width="24.33" height="20.33" fill="#cde126"/><rect x="8.33" y="91.67" width="12.33" height="20.33" fill="#fde725"/><rect x="16.67" y="91.67" width="12.33" height="20.33" fill="#cde126"/><rect x="25" y="91.67" width="12.33" height="20.33" fill="#fde725"/><rect x="33.33" y="91.67" width="12.33" height="20.33" fill="#cde126"/><rect x="41.67" y="91.67" width="12.33" height="20.33" fill="#fde725"/><rect x="50" y="91.67" width="12.33" height="20.33" fill="#cde126"/><rect x="58.33" y="91.67" width="12.33" height="20.33" fill="#fde725"/><rect x="66.67" y="91.67" width="12.33" height="20.33" fill="#cde126"/><rect x="75" y="91.67" width="12.33" height="20.33" fill="#fde725"/><rect x="83.33" y="91.67" width="12.33" height="20.33" fill="#cde126"/><rect x="91.67" y="91.67" width="20.33" height="20.33" fill="#fde725"/><path d="M7 12 L8 30 L9 52" stroke="#54c467" stroke-width="4.08" fill="none" stroke-linecap="round" stroke-linejoin="round"/><path d="M13 30 L14 62" stroke="#7dd24f" stroke-width="2.88" fill="none" stroke-linecap="round" stroke-linejoin="round"/><path d="M17 18 L20 46" stroke="#64ca5d" stroke-width="3.84" fill="none" stroke-linecap="round" stroke-linejoin="round"/><path d="M22 18 L36 52 L50 86" stroke="#64ca5d" stroke-width="4.32" fill="none" stroke-linecap="round" stroke-linejoin="round"/><path d="M30 45 L33 72" stroke="#6ccc59" stroke-width="3.84" fill="none" stroke-linecap="round" stroke-linejoin="round"/><path d="M26 10 L28 30" stroke="#87d448" stroke-width="3.12" fill="none" stroke-linecap="round" stroke-linejoin="round"/><path d="M42 58 L43 86" stroke="#5cc762" stroke-width="3.84" fill="none" stroke-linecap="round" stroke-linejoin="round"/><path d="M48 76 L52 92" stroke="#32b37a" stroke-width="7.8" fill="none" stroke-linecap="round" stroke-linejoin="round"/><path d="M78 44 L80 86" stroke="#32b37a" stroke-width="4.32" fill="none" stroke-linecap="round" stroke-linejoin="round"/><path d="M87 22 L90 72" stroke="#41bd72" stroke-width="4.32" fill="none" stroke-linecap="round" stroke-linejoin="round"/><path d="M93 48 L94 82" stroke="#54c467" stroke-width="3.36" fill="none" stroke-linecap="round" stroke-linejoin="round"/><path d="M70 38 L71 82" stroke="#6ccc59" stroke-width="3.36" fill="none" stroke-linecap="round" stroke-linejoin="round"/><path d="M60 8 L62 42" stroke="#87d448" stroke-width="3.36" fill="none" stroke-linecap="round" stroke-linejoin="round"/><path d="M52 12 L50 42" stroke="#91d642" stroke-width="3.36" fill="none" stroke-linecap="round" stroke-linejoin="round"/><path d="M40 12 L41 36" stroke="#91d642" stroke-width="2.88" fill="none" stroke-linecap="round" stroke-linejoin="round"/><path d="M66 14 L67 34" stroke="#9cd83c" stroke-width="2.88" fill="none" stroke-linecap="round" stroke-linejoin="round"/><path d="M82 10 L82 30" stroke="#91d642" stroke-width="2.88" fill="none" stroke-linecap="round" stroke-linejoin="round"/><path d="M36 77 L37 89" stroke="#fde725" stroke-width="2.64" fill="none" stroke-linecap="round" stroke-linejoin="round"/><path d="M84.5 18 L85.5 46" stroke="#fde725" stroke-width="2.4" fill="none" stroke-linecap="round" stroke-linejoin="round"/><path d="M75 58 L76 76" stroke="#fde725" stroke-width="2.88" fill="none" stroke-linecap="round" stroke-linejoin="round"/><path d="M50 59 L60 60" stroke="#fde725" stroke-width="3.36" fill="none" stroke-linecap="round" stroke-linejoin="round"/><path d="M45 50 L56 51" stroke="#fde725" stroke-width="2.88" fill="none" stroke-linecap="round" stroke-linejoin="round"/><path d="M10 6 L30 7" stroke="#fde725" stroke-width="2.88" fill="none" stroke-linecap="round" stroke-linejoin="round"/><path d="M50 3 L58 3" stroke="#fde725" stroke-width="2.88" fill="none" stroke-linecap="round" stroke-linejoin="round"/></g></svg>
<svg x="541.9" y="361.7" width="34.2" height="34.4" viewBox="0 0 100 100" preserveAspectRatio="none"><g filter="url(#nz13)"><rect x="-12" y="-12" width="32.67" height="24.33" fill="#c3e026"/><rect x="16.67" y="-12" width="12.33" height="24.33" fill="#8ed544"/><rect x="25" y="-12" width="12.33" height="24.33" fill="#c3e026"/><rect x="33.33" y="-12" width="12.33" height="24.33" fill="#8ed544"/><rect x="41.67" y="-12" width="12.33" height="24.33" fill="#c3e026"/><rect x="50" y="-12" width="12.33" height="24.33" fill="#8ed544"/><rect x="58.33" y="-12" width="20.67" height="24.33" fill="#c3e026"/><rect x="75" y="-12" width="12.33" height="24.33" fill="#8ed544"/><rect x="83.33" y="-12" width="28.67" height="24.33" fill="#c3e026"/><rect x="-12" y="8.33" width="24.33" height="12.33" fill="#c3e026"/><rect x="8.33" y="8.33" width="87.33" height="12.33" fill="#8ed544"/><rect x="91.67" y="8.33" width="20.33" height="12.33" fill="#c3e026"/><rect x="-12" y="16.67" width="24.33" height="12.33" fill="#c3e026"/><rect x="8.33" y="16.67" width="12.33" height="12.33" fill="#8ed544"/><rect x="16.67" y="16.67" width="12.33" height="12.33" fill="#5fc860"/><rect x="25" y="16.67" width="70.67" height="12.33" fill="#8ed544"/><rect x="91.67" y="16.67" width="20.33" height="12.33" fill="#c3e026"/><rect x="-12" y="25" width="24.33" height="12.33" fill="#c3e026"/><rect x="8.33" y="25" width="103.67" height="12.33" fill="#8ed544"/><rect x="-12" y="33.33" width="24.33" height="12.33" fill="#c3e026"/><rect x="8.33" y="33.33" width="20.67" height="12.33" fill="#8ed544"/><rect x="25" y="33.33" width="12.33" height="12.33" fill="#5fc860"/><rect x="33.33" y="33.33" width="78.67" height="12.33" fill="#8ed544"/><rect x="-12" y="41.67" width="24.33" height="12.33" fill="#c3e026"/><rect x="8.33" y="41.67" width="29" height="12.33" fill="#8ed544"/><rect x="33.33" y="41.67" width="12.33" height="12.33" fill="#5fc860"/><rect x="41.67" y="41.67" width="70.33" height="12.33" fill="#8ed544"/><rect x="-12" y="50" width="24.33" height="12.33" fill="#c3e026"/><rect x="8.33" y="50" width="45.67" height="12.33" fill="#8ed544"/><rect x="50" y="50" width="12.33" height="12.33" fill="#c3e026"/><rect x="58.33" y="50" width="53.67" height="12.33" fill="#8ed544"/><rect x="-12" y="58.33" width="24.33" height="12.33" fill="#c3e026"/><rect x="8.33" y="58.33" width="45.67" height="12.33" fill="#8ed544"/><rect x="50" y="58.33" width="20.67" height="12.33" fill="#c3e026"/><rect x="66.67" y="58.33" width="45.33" height="12.33" fill="#8ed544"/><rect x="-12" y="66.67" width="24.33" height="12.33" fill="#c3e026"/><rect x="8.33" y="66.67" width="103.67" height="12.33" fill="#8ed544"/><rect x="-12" y="75" width="24.33" height="12.33" fill="#c3e026"/><rect x="8.33" y="75" width="103.67" height="12.33" fill="#8ed544"/><rect x="-12" y="83.33" width="24.33" height="12.33" fill="#c3e026"/><rect x="8.33" y="83.33" width="87.33" height="12.33" fill="#8ed544"/><rect x="91.67" y="83.33" width="20.33" height="12.33" fill="#c3e026"/><rect x="-12" y="91.67" width="24.33" height="20.33" fill="#8ed544"/><rect x="8.33" y="91.67" width="12.33" height="20.33" fill="#c3e026"/><rect x="16.67" y="91.67" width="12.33" height="20.33" fill="#8ed544"/><rect x="25" y="91.67" width="12.33" height="20.33" fill="#c3e026"/><rect x="33.33" y="91.67" width="12.33" height="20.33" fill="#8ed544"/><rect x="41.67" y="91.67" width="12.33" height="20.33" fill="#c3e026"/><rect x="50" y="91.67" width="12.33" height="20.33" fill="#8ed544"/><rect x="58.33" y="91.67" width="12.33" height="20.33" fill="#c3e026"/><rect x="66.67" y="91.67" width="12.33" height="20.33" fill="#8ed544"/><rect x="75" y="91.67" width="12.33" height="20.33" fill="#c3e026"/><rect x="83.33" y="91.67" width="12.33" height="20.33" fill="#8ed544"/><rect x="91.67" y="91.67" width="20.33" height="20.33" fill="#c3e026"/><path d="M7 12 L8 30 L9 52" stroke="#29ad80" stroke-width="4.08" fill="none" stroke-linecap="round" stroke-linejoin="round"/><path d="M13 30 L14 62" stroke="#45bf6f" stroke-width="2.88" fill="none" stroke-linecap="round" stroke-linejoin="round"/><path d="M17 18 L20 46" stroke="#34b479" stroke-width="3.84" fill="none" stroke-linecap="round" stroke-linejoin="round"/><path d="M22 18 L36 52 L50 86" stroke="#34b479" stroke-width="4.32" fill="none" stroke-linecap="round" stroke-linejoin="round"/><path d="M30 45 L33 72" stroke="#3ab876" stroke-width="3.84" fill="none" stroke-linecap="round" stroke-linejoin="round"/><path d="M26 10 L28 30" stroke="#4ec26a" stroke-width="3.12" fill="none" stroke-linecap="round" stroke-linejoin="round"/><path d="M42 58 L43 86" stroke="#2fb17c" stroke-width="3.84" fill="none" stroke-linecap="round" stroke-linejoin="round"/><path d="M48 76 L52 92" stroke="#219989" stroke-width="7.8" fill="none" stroke-linecap="round" stroke-linejoin="round"/><path d="M78 44 L80 86" stroke="#219989" stroke-width="4.32" fill="none" stroke-linecap="round" stroke-linejoin="round"/><path d="M87 22 L90 72" stroke="#22a485" stroke-width="4.32" fill="none" stroke-linecap="round" stroke-linejoin="round"/><path d="M93 48 L94 82" stroke="#29ad80" stroke-width="3.36" fill="none" stroke-linecap="round" stroke-linejoin="round"/><path d="M70 38 L71 82" stroke="#3ab876" stroke-width="3.36" fill="none" stroke-linecap="round" stroke-linejoin="round"/><path d="M60 8 L62 42" stroke="#4ec26a" stroke-width="3.36" fill="none" stroke-linecap="round" stroke-linejoin="round"/><path d="M52 12 L50 42" stroke="#56c565" stroke-width="3.36" fill="none" stroke-linecap="round" stroke-linejoin="round"/><path d="M40 12 L41 36" stroke="#56c565" stroke-width="2.88" fill="none" stroke-linecap="round" stroke-linejoin="round"/><path d="M66 14 L67 34" stroke="#5fc860" stroke-width="2.88" fill="none" stroke-linecap="round" stroke-linejoin="round"/><path d="M82 10 L82 30" stroke="#56c565" stroke-width="2.88" fill="none" stroke-linecap="round" stroke-linejoin="round"/><path d="M36 77 L37 89" stroke="#fde725" stroke-width="2.64" fill="none" stroke-linecap="round" stroke-linejoin="round"/><path d="M84.5 18 L85.5 46" stroke="#fde725" stroke-width="2.4" fill="none" stroke-linecap="round" stroke-linejoin="round"/><path d="M75 58 L76 76" stroke="#fde725" stroke-width="2.88" fill="none" stroke-linecap="round" stroke-linejoin="round"/><path d="M50 59 L60 60" stroke="#fde725" stroke-width="3.36" fill="none" stroke-linecap="round" stroke-linejoin="round"/><path d="M45 50 L56 51" stroke="#f1e625" stroke-width="2.88" fill="none" stroke-linecap="round" stroke-linejoin="round"/><path d="M10 6 L30 7" stroke="#ece525" stroke-width="2.88" fill="none" stroke-linecap="round" stroke-linejoin="round"/><path d="M50 3 L58 3" stroke="#fde725" stroke-width="2.88" fill="none" stroke-linecap="round" stroke-linejoin="round"/></g></svg>
<g font-family="'DejaVu Sans','Liberation Sans',sans-serif">
<path d="M311.48 106.3V105.17H312.97V106.3ZM315.19 106.3V104.13H316.67V106.3ZM318.16 106.3V97.46H319.64V106.3ZM319.64 106.3V93.01H321.86V106.3ZM321.86 106.3V89.3H324.09V106.3ZM324.09 106.3V78.92H326.02V106.3ZM326.02 106.3V77.44H328.09V106.3ZM328.09 106.3V68.54H330.02V106.3ZM330.02 106.3V64.83H331.5V106.3ZM331.5 106.3V55.93H332.99V106.3ZM332.99 106.3V64.83H334.17V106.3ZM334.17 106.3V56.67H335.51V106.3ZM335.51 106.3V64.09H336.69V106.3ZM336.69 106.3V71.5H338.18V106.3ZM338.18 106.3V72.25H339.66V106.3ZM339.66 106.3V80.4H341.14V106.3ZM341.14 106.3V84.85H343.37V106.3ZM343.37 106.3V87.82H344.85V106.3ZM344.85 106.3V88.56H346.33V106.3ZM346.33 106.3V83.37H347.82V106.3ZM347.82 106.3V68.54H348.86V106.3ZM348.86 106.3V81.88H350.78V106.3ZM350.78 106.3V72.25H352.27V106.3ZM352.27 106.3V55.93H353.75V106.3ZM353.75 106.3V56.67H355.23V106.3ZM355.23 106.3V72.25H356.72V106.3ZM356.72 106.3V69.28H358.2V106.3ZM358.2 106.3V85.59H359.68V106.3ZM359.68 106.3V80.4H361.16V106.3ZM361.16 106.3V98.94H362.65V106.3ZM362.65 106.3V95.97H364.13V106.3ZM364.13 106.3V93.75H366.06V106.3ZM366.06 106.3V101.16H367.84V106.3ZM367.84 106.3V105.61H370.06V106.3ZM370.06 106.3V101.91H371.1V106.3ZM371.1 106.3V105.17H372.29V106.3ZM372.29 106.3V105.61H373.6V106.3Z" fill="#2b9fe6"/><rect x="275.8" y="53.3" width="97.8" height="53" fill="none" stroke="#4a4a4a" stroke-width="0.9"/><text x="275.8" y="120.1" font-size="9.4" text-anchor="middle" fill="#1a1a1a">0</text><text x="320.7" y="120.1" font-size="9.4" text-anchor="middle" fill="#1a1a1a">2</text><text x="364.9" y="120.1" font-size="9.4" text-anchor="middle" fill="#1a1a1a">4</text><text x="269.8" y="109.73" font-size="9.4" text-anchor="end" fill="#1a1a1a">0</text><text x="269.8" y="88.43" font-size="9.4" text-anchor="end" fill="#1a1a1a">20</text><text x="269.8" y="66.83" font-size="9.4" text-anchor="end" fill="#1a1a1a">40</text><path d="M275.8 106.3v2.6M320.7 106.3v2.6M364.9 106.3v2.6M275.8 106.3h-2.6M275.8 85h-2.6M275.8 63.4h-2.6" stroke="#1a1a1a" stroke-width="0.8" fill="none"/>
<path d="M276.22 232.1V180.11H278.44V232.1ZM278.44 232.1V221.67H280V232.1ZM280 232.1V218.33H282.22V232.1ZM282.22 232.1V216.56H283.78V232.1ZM283.78 232.1V211H286V232.1ZM286 232.1V216.56H288.22V232.1ZM288.22 232.1V211H290V232.1ZM290 232.1V206.11H292.22V232.1ZM292.22 232.1V206.78H294.44V232.1ZM294.44 232.1V208.33H296.22V232.1ZM296.22 232.1V207.22H298.44V232.1ZM298.44 232.1V209.44H300.67V232.1ZM300.67 232.1V217.89H302.22V232.1ZM302.22 232.1V212.11H304V232.1ZM304 232.1V224.56H306V232.1ZM306 232.1V221.67H308.22V232.1ZM308.22 232.1V223.22H309.56V232.1ZM309.56 232.1V219.89H311.78V232.1ZM311.78 232.1V223.22H314V232.1ZM314 232.1V225.44H316.22V232.1ZM316.22 232.1V227.67H318.89V232.1ZM318.89 232.1V226.33H321.56V232.1ZM321.56 232.1V229.89H324.44V232.1ZM324.44 232.1V229H327.78V232.1ZM327.78 232.1V230.56H332.22V232.1ZM332.22 232.1V229.44H337.11V232.1ZM337.11 232.1V231.22H340V232.1ZM340 232.1V230.56H343.78V232.1ZM343.78 232.1V229.44H347.78V232.1ZM347.78 232.1V230.11H351.11V232.1ZM351.11 232.1V231H357.78V232.1ZM357.78 232.1V231.67H361.11V232.1ZM361.11 232.1V230.78H363.78V232.1ZM363.78 232.1V229.44H366.67V232.1ZM366.67 232.1V230.56H371.11V232.1ZM371.11 232.1V231.22H374V232.1Z" fill="#2b9fe6"/><rect x="276.2" y="178.8" width="97.8" height="53.3" fill="none" stroke="#4a4a4a" stroke-width="0.9"/><text x="276.2" y="245.9" font-size="9.4" text-anchor="middle" fill="#1a1a1a">0</text><text x="312.9" y="245.9" font-size="9.4" text-anchor="middle" fill="#1a1a1a">2</text><text x="349.6" y="245.9" font-size="9.4" text-anchor="middle" fill="#1a1a1a">4</text><text x="270.2" y="235.53" font-size="9.4" text-anchor="end" fill="#1a1a1a">0</text><text x="270.2" y="215.13" font-size="9.4" text-anchor="end" fill="#1a1a1a">50</text><text x="270.2" y="194.63" font-size="9.4" text-anchor="end" fill="#1a1a1a">100</text><path d="M276.2 232.1v2.6M312.9 232.1v2.6M349.6 232.1v2.6M276.2 232.1h-2.6M276.2 211.7h-2.6M276.2 191.2h-2.6" stroke="#1a1a1a" stroke-width="0.8" fill="none"/>
<path d="M272.9 366.1V336.11H275.11V366.1ZM275.11 366.1V363.44H277.78V366.1ZM277.78 366.1V362.56H280V366.1ZM280 366.1V363.44H282.89V366.1ZM282.89 366.1V361.67H285.11V366.1ZM285.11 366.1V359H286.89V366.1ZM286.89 366.1V361.67H288.89V366.1ZM288.89 366.1V353.89H290.67V366.1ZM290.67 366.1V349.44H292.67V366.1ZM292.67 366.1V355H294.44V366.1ZM294.44 366.1V353.89H296.22V366.1ZM296.22 366.1V359.44H298V366.1ZM298 366.1V350.56H300.22V366.1ZM300.22 366.1V340.56H302.44V366.1ZM302.44 366.1V342.78H304.22V366.1ZM304.22 366.1V336.11H306.44V366.1ZM306.44 366.1V341.22H308.67V366.1ZM308.67 366.1V338.33H310.44V366.1ZM310.44 366.1V326.11H312.67V366.1ZM312.67 366.1V321.67H314.89V366.1ZM314.89 366.1V320.56H316.67V366.1ZM316.67 366.1V315.44H318.44V366.1ZM318.44 366.1V323.44H320.22V366.1ZM320.22 366.1V327.22H322V366.1ZM322 366.1V329.44H323.78V366.1ZM323.78 366.1V323.44H326V366.1ZM326 366.1V329.44H327.78V366.1ZM327.78 366.1V328.33H330.44V366.1ZM330.44 366.1V327.89H333.11V366.1ZM333.11 366.1V333.22H335.56V366.1ZM335.56 366.1V338.33H337.78V366.1ZM337.78 366.1V342.78H339.56V366.1ZM339.56 366.1V345H341.33V366.1ZM341.33 366.1V340.56H343.56V366.1ZM343.56 366.1V347.89H345.33V366.1ZM345.33 366.1V358.33H347.11V366.1ZM347.11 366.1V359.89H349.11V366.1ZM349.11 366.1V361.22H351.33V366.1ZM351.33 366.1V356.78H353.56V366.1ZM353.56 366.1V359.89H355.78V366.1ZM355.78 366.1V364.33H358V366.1ZM358 366.1V362.78H360.67V366.1ZM360.67 366.1V365H362.89V366.1ZM362.89 366.1V363.44H365.11V366.1ZM365.11 366.1V365.22H371.1V366.1Z" fill="#2b9fe6"/><rect x="272.9" y="312.3" width="98.2" height="53.8" fill="none" stroke="#4a4a4a" stroke-width="0.9"/><text x="272.9" y="379.9" font-size="9.4" text-anchor="middle" fill="#1a1a1a">0.0</text><text x="306.7" y="379.9" font-size="9.4" text-anchor="middle" fill="#1a1a1a">2.5</text><text x="340.4" y="379.9" font-size="9.4" text-anchor="middle" fill="#1a1a1a">5.0</text><text x="266.9" y="369.53" font-size="9.4" text-anchor="end" fill="#1a1a1a">0</text><text x="266.9" y="351.33" font-size="9.4" text-anchor="end" fill="#1a1a1a">20</text><text x="266.9" y="332.43" font-size="9.4" text-anchor="end" fill="#1a1a1a">40</text><path d="M272.9 366.1v2.6M306.7 366.1v2.6M340.4 366.1v2.6M272.9 366.1h-2.6M272.9 347.9h-2.6M272.9 329h-2.6" stroke="#1a1a1a" stroke-width="0.8" fill="none"/>
<path d="M485.98 55.4V52.78H487.07V55.4ZM488.15 55.4V50.61H489.78V55.4ZM489.78 55.4V48.98H490.87V55.4ZM490.87 55.4V46.8H494.13V55.4ZM494.13 55.4V45.17H495.22V55.4ZM495.22 55.4V38.11H496.85V55.4ZM496.85 55.4V40.83H498.48V55.4ZM498.48 55.4V46.26H499.02V55.4ZM499.02 55.4V40.83H499.78V55.4ZM499.78 55.4V48.43H501.2V55.4ZM501.2 55.4V52.78H502.83V55.4ZM502.83 55.4V48.43H504.46V55.4ZM504.46 55.4V44.09H505.87V55.4ZM505.87 55.4V49.52H507.17V55.4ZM507.17 55.4V42.46H508.04V55.4ZM508.04 55.4V25.07H508.91V55.4ZM508.91 55.4V38.11H510.98V55.4ZM510.98 55.4V47.35H511.74V55.4ZM511.74 55.4V44.09H512.83V55.4ZM512.83 55.4V51.7H514.24V55.4ZM514.24 55.4V47.89H515.33V55.4ZM515.33 55.4V52.78H516.41V55.4ZM516.41 55.4V54.41H520.2V55.4Z" fill="#cc8ce8"/><rect x="458.4" y="23.4" width="61.8" height="32" fill="none" stroke="#858585" stroke-width="0.7"/><text x="458.4" y="63" font-size="5.6" text-anchor="middle" fill="#2a2a2a">0</text><text x="486.3" y="63" font-size="5.6" text-anchor="middle" fill="#2a2a2a">2</text><text x="514.6" y="63" font-size="5.6" text-anchor="middle" fill="#2a2a2a">4</text><text x="455.8" y="57.44" font-size="5.6" text-anchor="end" fill="#2a2a2a">0</text><text x="455.8" y="42.84" font-size="5.6" text-anchor="end" fill="#2a2a2a">10</text><text x="455.8" y="28.34" font-size="5.6" text-anchor="end" fill="#2a2a2a">20</text><path d="M458.4 55.4v1.6M486.3 55.4v1.6M514.6 55.4v1.6M458.4 55.4h-1.6M458.4 40.8h-1.6M458.4 26.3h-1.6" stroke="#2a2a2a" stroke-width="0.55" fill="none"/>
<path d="M623.89 56.3V54.67H624.67V56.3ZM626.11 56.3V51.89H628.33V56.3ZM628.33 56.3V44.11H630V56.3ZM630 56.3V49.11H631.67V56.3ZM631.67 56.3V40.22H633.33V56.3ZM633.33 56.3V37.44H634.44V56.3ZM634.44 56.3V33.56H635.78V56.3ZM635.78 56.3V26.89H636.89V56.3ZM636.89 56.3V35.78H638V56.3ZM638 56.3V38H639.44V56.3ZM639.44 56.3V35.78H640.56V56.3ZM640.56 56.3V45.78H641.67V56.3ZM641.67 56.3V42.44H642.78V56.3ZM642.78 56.3V37.44H643.89V56.3ZM643.89 56.3V48H645.22V56.3ZM645.22 56.3V38.56H646.67V56.3ZM646.67 56.3V37.44H647.78V56.3ZM647.78 56.3V25.22H648.89V56.3ZM648.89 56.3V40.22H650V56.3ZM650 56.3V34.67H651.11V56.3ZM651.11 56.3V48H653.89V56.3ZM653.89 56.3V54.67H655.78V56.3ZM655.78 56.3V45.78H656.67V56.3ZM656.67 56.3V55.78H658V56.3ZM658 56.3V54.11H660.22V56.3Z" fill="#cc8ce8"/><rect x="598" y="23.3" width="63.8" height="33" fill="none" stroke="#858585" stroke-width="0.7"/><text x="598" y="63.9" font-size="5.6" text-anchor="middle" fill="#2a2a2a">0</text><text x="627.2" y="63.9" font-size="5.6" text-anchor="middle" fill="#2a2a2a">2</text><text x="656.3" y="63.9" font-size="5.6" text-anchor="middle" fill="#2a2a2a">4</text><text x="595.4" y="58.34" font-size="5.6" text-anchor="end" fill="#2a2a2a">0</text><text x="595.4" y="37.24" font-size="5.6" text-anchor="end" fill="#2a2a2a">10</text><path d="M598 56.3v1.6M627.2 56.3v1.6M656.3 56.3v1.6M598 56.3h-1.6M598 35.2h-1.6" stroke="#2a2a2a" stroke-width="0.55" fill="none"/>
<path d="M503.54 120.4V119.69H506.99V120.4ZM506.99 120.4V119.17H510.45V120.4ZM510.45 120.4V118.65H513.9V120.4ZM513.9 120.4V117.96H516.49V120.4ZM516.49 120.4V117.27H519.08V120.4ZM519.08 120.4V118.13H520.81V120.4ZM520.81 120.4V113.81H522.19V120.4ZM522.19 120.4V101.72H523.23V120.4ZM523.23 120.4V89.29H523.9V120.4Z" fill="#cc8ce8"/><rect x="458.3" y="88.8" width="65.6" height="31.6" fill="none" stroke="#858585" stroke-width="0.7"/><text x="458.3" y="128" font-size="5.6" text-anchor="middle" fill="#2a2a2a">0</text><text x="488" y="128" font-size="5.6" text-anchor="middle" fill="#2a2a2a">2</text><text x="517.9" y="128" font-size="5.6" text-anchor="middle" fill="#2a2a2a">4</text><text x="455.7" y="122.44" font-size="5.6" text-anchor="end" fill="#2a2a2a">0</text><text x="455.7" y="101.64" font-size="5.6" text-anchor="end" fill="#2a2a2a">50</text><path d="M458.3 120.4v1.6M488 120.4v1.6M517.9 120.4v1.6M458.3 120.4h-1.6M458.3 99.6h-1.6" stroke="#2a2a2a" stroke-width="0.55" fill="none"/>
<path d="M629.04 120.4V119.51H630.77V120.4ZM631.63 120.4V118.65H635.09V120.4ZM635.09 120.4V117.61H636.81V120.4ZM636.81 120.4V118.99H639.4V120.4ZM639.4 120.4V114.68H641.13V120.4ZM641.13 120.4V112.09H642.86V120.4ZM642.86 120.4V118.99H644.59V120.4ZM644.59 120.4V115.54H646.31V120.4ZM646.31 120.4V111.22H648.04V120.4ZM648.04 120.4V110.36H651.49V120.4ZM651.49 120.4V111.22H654.08V120.4ZM654.08 120.4V109.5H655.81V120.4ZM655.81 120.4V118.13H657.54V120.4ZM657.54 120.4V105.18H659.27V120.4ZM659.27 120.4V96.54H660.47V120.4ZM660.47 120.4V90.5H661.86V120.4ZM661.86 120.4V89.63H663.07V120.4ZM663.07 120.4V103.45H664.1V120.4Z" fill="#cc8ce8"/><rect x="598" y="88.3" width="66.1" height="32.1" fill="none" stroke="#858585" stroke-width="0.7"/><text x="598" y="128" font-size="5.6" text-anchor="middle" fill="#2a2a2a">0</text><text x="627.7" y="128" font-size="5.6" text-anchor="middle" fill="#2a2a2a">2</text><text x="657.5" y="128" font-size="5.6" text-anchor="middle" fill="#2a2a2a">4</text><text x="595.4" y="122.44" font-size="5.6" text-anchor="end" fill="#2a2a2a">0</text><text x="595.4" y="96.54" font-size="5.6" text-anchor="end" fill="#2a2a2a">20</text><path d="M598 120.4v1.6M627.7 120.4v1.6M657.5 120.4v1.6M598 120.4h-1.6M598 94.5h-1.6" stroke="#2a2a2a" stroke-width="0.55" fill="none"/>
<path d="M459.63 192.6V189.63H460.67V192.6ZM460.67 192.6V191.85H462.15V192.6ZM462.15 192.6V185.93H464.07V192.6ZM464.07 192.6V177.04H465.56V192.6ZM465.56 192.6V182.96H467.04V192.6ZM467.04 192.6V184.44H468.52V192.6ZM468.52 192.6V178.81H471.04V192.6ZM471.04 192.6V161.48H472.52V192.6ZM472.52 192.6V174.81H474V192.6ZM474 192.6V178.81H474.89V192.6ZM474.89 192.6V168.44H476.37V192.6ZM476.37 192.6V170.37H477.85V192.6ZM477.85 192.6V182.96H479.04V192.6ZM479.04 192.6V178.81H480.22V192.6ZM480.22 192.6V184.44H481.41V192.6ZM481.41 192.6V169.63H482.59V192.6ZM482.59 192.6V178.81H483.78V192.6ZM483.78 192.6V180.74H485.26V192.6ZM485.26 192.6V188.15H487.04V192.6ZM487.04 192.6V185.93H488.81V192.6ZM488.81 192.6V190.37H490.74V192.6ZM490.74 192.6V187.7H492.22V192.6ZM492.22 192.6V189.63H493.26V192.6ZM493.26 192.6V187.7H494.74V192.6ZM494.74 192.6V191.11H497.11V192.6ZM497.11 192.6V188.15H498.59V192.6ZM498.59 192.6V190.37H501.11V192.6ZM501.11 192.6V191.85H504.07V192.6ZM504.07 192.6V187.41H506V192.6ZM506 192.6V191.11H507.48V192.6ZM507.48 192.6V189.63H508.96V192.6ZM508.96 192.6V191.85H510.74V192.6ZM510.74 192.6V188.59H512.22V192.6ZM512.22 192.6V192.15H515.19V192.6ZM515.19 192.6V189.63H516.96V192.6ZM516.96 192.6V188.15H518.89V192.6ZM518.89 192.6V190.37H519.93V192.6ZM519.93 192.6V185.63H521.41V192.6ZM521.41 192.6V190.37H523.6V192.6Z" fill="#cc8ce8"/><rect x="459.6" y="160" width="64" height="32.6" fill="none" stroke="#858585" stroke-width="0.7"/><text x="459.6" y="200.2" font-size="5.6" text-anchor="middle" fill="#2a2a2a">0</text><text x="483.6" y="200.2" font-size="5.6" text-anchor="middle" fill="#2a2a2a">2</text><text x="507.5" y="200.2" font-size="5.6" text-anchor="middle" fill="#2a2a2a">4</text><text x="457" y="194.64" font-size="5.6" text-anchor="end" fill="#2a2a2a">0</text><text x="457" y="180.54" font-size="5.6" text-anchor="end" fill="#2a2a2a">10</text><text x="457" y="166.14" font-size="5.6" text-anchor="end" fill="#2a2a2a">20</text><path d="M459.6 192.6v1.6M483.6 192.6v1.6M507.5 192.6v1.6M459.6 192.6h-1.6M459.6 178.5h-1.6M459.6 164.1h-1.6" stroke="#2a2a2a" stroke-width="0.55" fill="none"/>
<path d="M597.6 192.3V187.41H599.07V192.3ZM599.07 192.3V177.78H600.56V192.3ZM600.56 192.3V176.3H602.04V192.3ZM602.04 192.3V166.37H604.26V192.3ZM604.26 192.3V175.56H605.44V192.3ZM605.44 192.3V176.3H607.22V192.3ZM607.22 192.3V161.04H608.7V192.3ZM608.7 192.3V172.59H610.19V192.3ZM610.19 192.3V174.81H611.67V192.3ZM611.67 192.3V170.37H613.15V192.3ZM613.15 192.3V174.81H613.89V192.3ZM613.89 192.3V162.96H615.07V192.3ZM615.07 192.3V180.74H616.41V192.3ZM616.41 192.3V175.26H617.89V192.3ZM617.89 192.3V184.44H619.07V192.3ZM619.07 192.3V182.22H620.56V192.3ZM620.56 192.3V188.15H621.74V192.3ZM621.74 192.3V185.19H622.93V192.3ZM622.93 192.3V188.89H624.11V192.3ZM624.11 192.3V183.7H625.74V192.3ZM625.74 192.3V187.41H626.78V192.3ZM628.26 192.3V188.89H630.04V192.3ZM630.04 192.3V191.56H632.11V192.3ZM632.41 192.3V189.19H634.63V192.3ZM636.85 192.3V189.19H639.07V192.3ZM641.3 192.3V188.89H643.07V192.3ZM643.07 192.3V187.41H644.26V192.3ZM644.26 192.3V185.19H645.74V192.3ZM645.74 192.3V191.11H647.22V192.3ZM647.22 192.3V190.37H648.7V192.3ZM648.7 192.3V191.11H650.93V192.3Z" fill="#cc8ce8"/><rect x="597.6" y="159.3" width="64.4" height="33" fill="none" stroke="#858585" stroke-width="0.7"/><text x="597.6" y="199.9" font-size="5.6" text-anchor="middle" fill="#2a2a2a">0</text><text x="621.6" y="199.9" font-size="5.6" text-anchor="middle" fill="#2a2a2a">2</text><text x="645.7" y="199.9" font-size="5.6" text-anchor="middle" fill="#2a2a2a">4</text><text x="595" y="194.34" font-size="5.6" text-anchor="end" fill="#2a2a2a">0</text><text x="595" y="177.34" font-size="5.6" text-anchor="end" fill="#2a2a2a">10</text><path d="M597.6 192.3v1.6M621.6 192.3v1.6M645.7 192.3v1.6M597.6 192.3h-1.6M597.6 175.3h-1.6" stroke="#2a2a2a" stroke-width="0.55" fill="none"/>
<path d="M458.7 258.9V256.48H460.19V258.9ZM460.19 258.9V258.33H463.89V258.9ZM463.89 258.9V253.33H465.74V258.9ZM465.74 258.9V252.22H467.59V258.9ZM467.59 258.9V255.56H469.44V258.9ZM469.44 258.9V254.63H471.85V258.9ZM471.85 258.9V252.22H473.7V258.9ZM473.7 258.9V250.37H475.93V258.9ZM475.93 258.9V253.7H477.41V258.9ZM477.41 258.9V249.07H479.63V258.9ZM479.63 258.9V253.7H481.85V258.9ZM481.85 258.9V249.63H483.7V258.9ZM483.7 258.9V254.63H486.11V258.9ZM486.11 258.9V252.22H487.96V258.9ZM487.96 258.9V254.63H490.37V258.9ZM490.37 258.9V249.07H491.11V258.9ZM491.11 258.9V238.89H492.96V258.9ZM492.96 258.9V251.85H494.81V258.9ZM494.81 258.9V247.78H496.67V258.9ZM496.67 258.9V250.93H498.52V258.9ZM498.52 258.9V247.78H500.37V258.9ZM500.37 258.9V250.37H502.78V258.9ZM502.78 258.9V242.22H505.19V258.9ZM505.19 258.9V253.7H507.04V258.9ZM507.04 258.9V246.3H509.26V258.9ZM509.26 258.9V253.7H511.48V258.9ZM511.48 258.9V252.22H513.33V258.9ZM513.33 258.9V255.19H515.74V258.9ZM515.74 258.9V249.07H517.59V258.9ZM517.59 258.9V257.41H520V258.9ZM520 258.9V253.33H521.11V258.9ZM522.59 258.9V228.1H524.07V258.9Z" fill="#cc8ce8"/><rect x="458.7" y="227.8" width="65.4" height="31.1" fill="none" stroke="#858585" stroke-width="0.7"/><text x="458.7" y="266.5" font-size="5.6" text-anchor="middle" fill="#2a2a2a">0</text><text x="483.3" y="266.5" font-size="5.6" text-anchor="middle" fill="#2a2a2a">2</text><text x="507.8" y="266.5" font-size="5.6" text-anchor="middle" fill="#2a2a2a">4</text><text x="456.1" y="260.94" font-size="5.6" text-anchor="end" fill="#2a2a2a">0</text><text x="456.1" y="231.64" font-size="5.6" text-anchor="end" fill="#2a2a2a">20</text><path d="M458.7 258.9v1.6M483.3 258.9v1.6M507.8 258.9v1.6M458.7 258.9h-1.6M458.7 229.6h-1.6" stroke="#2a2a2a" stroke-width="0.55" fill="none"/>
<path d="M597.04 259.3V255.19H598.33V259.3ZM598.33 259.3V258.89H600.19V259.3ZM600.19 259.3V255.56H602.04V259.3ZM602.04 259.3V250.93H603.52V259.3ZM603.52 259.3V245.37H605.37V259.3ZM605.37 259.3V248.52H606.85V259.3ZM606.85 259.3V257.41H608.15V259.3ZM608.15 259.3V246.3H609.44V259.3ZM609.44 259.3V241.11H610.93V259.3ZM610.93 259.3V248.15H613.15V259.3ZM613.15 259.3V245.93H615.56V259.3ZM615.56 259.3V227.41H616.85V259.3ZM616.85 259.3V248.52H618.7V259.3ZM618.7 259.3V241.67H620.19V259.3ZM620.19 259.3V250H621.67V259.3ZM621.67 259.3V238.89H623.52V259.3ZM623.52 259.3V234.26H625.37V259.3ZM625.37 259.3V250H627.22V259.3ZM627.22 259.3V241.11H628.7V259.3ZM628.7 259.3V234.26H630.56V259.3ZM630.56 259.3V243.52H632.41V259.3ZM632.41 259.3V250.93H633.52V259.3ZM633.52 259.3V238.89H635.37V259.3ZM635.37 259.3V234.26H636.85V259.3ZM636.85 259.3V241.11H638.7V259.3ZM638.7 259.3V247.78H642.78V259.3ZM642.78 259.3V255.56H643.89V259.3ZM643.89 259.3V245.37H645.19V259.3ZM645.19 259.3V255.56H647.04V259.3ZM647.04 259.3V257.41H648.89V259.3ZM648.89 259.3V250H650.74V259.3ZM650.74 259.3V252.78H652.59V259.3ZM652.59 259.3V256.48H655V259.3ZM655 259.3V254.63H657.22V259.3ZM660 259.3V254.63H661.85V259.3ZM661.85 259.3V237.96H663.15V259.3ZM663.15 259.3V236.11H664.26V259.3Z" fill="#cc8ce8"/><rect x="597" y="226.9" width="67.3" height="32.4" fill="none" stroke="#858585" stroke-width="0.7"/><text x="597" y="266.9" font-size="5.6" text-anchor="middle" fill="#2a2a2a">0</text><text x="622.4" y="266.9" font-size="5.6" text-anchor="middle" fill="#2a2a2a">2</text><text x="647.6" y="266.9" font-size="5.6" text-anchor="middle" fill="#2a2a2a">4</text><text x="594.4" y="261.34" font-size="5.6" text-anchor="end" fill="#2a2a2a">0</text><text x="594.4" y="238.74" font-size="5.6" text-anchor="end" fill="#2a2a2a">10</text><path d="M597 259.3v1.6M622.4 259.3v1.6M647.6 259.3v1.6M597 259.3h-1.6M597 236.7h-1.6" stroke="#2a2a2a" stroke-width="0.55" fill="none"/>
<path d="M466.06 331V329.41H467.67V331ZM474.9 331V329.73H477.31V331ZM477.31 331V328.12H479.72V331ZM479.72 331V330.21H481.81V331ZM481.81 331V328.6H484.06V331ZM484.06 331V323.3H485.66V331ZM485.66 331V324.59H488.55V331ZM488.55 331V315.75H490.16V331ZM490.16 331V315.27H493.05V331ZM493.05 331V310.13H494.66V331ZM494.66 331V306.92H496.27V331ZM496.27 331V306.59H497.87V331ZM497.87 331V310.93H499.8V331ZM499.8 331V301.29H501.73V331ZM501.73 331V311.73H503.33V331ZM503.33 331V304.51H504.62V331ZM504.62 331V300.49H505.9V331ZM505.9 331V322.98H507.51V331ZM507.51 331V324.59H509.12V331ZM509.12 331V322.18H511.85V331ZM511.85 331V329.41H513.94V331ZM513.94 331V329.73H515.06V331ZM515.06 331V324.27H516.18V331ZM516.18 331V329.73H517.79V331ZM517.79 331V328.12H519.4V331ZM519.4 331V330.69H521.49V331ZM521.49 331V329.73H523.57V331Z" fill="#cc8ce8"/><rect x="458" y="298.1" width="65.9" height="32.9" fill="none" stroke="#858585" stroke-width="0.7"/><text x="458" y="338.6" font-size="5.6" text-anchor="middle" fill="#2a2a2a">0.0</text><text x="480.5" y="338.6" font-size="5.6" text-anchor="middle" fill="#2a2a2a">2.5</text><text x="502.7" y="338.6" font-size="5.6" text-anchor="middle" fill="#2a2a2a">5.0</text><text x="455.4" y="333.04" font-size="5.6" text-anchor="end" fill="#2a2a2a">0</text><text x="455.4" y="315.74" font-size="5.6" text-anchor="end" fill="#2a2a2a">10</text><path d="M458 331v1.6M480.5 331v1.6M502.7 331v1.6M458 331h-1.6M458 313.7h-1.6" stroke="#2a2a2a" stroke-width="0.55" fill="none"/>
<path d="M600.24 330.6V329.34H601.85V330.6ZM607.14 330.6V328.54H609.07V330.6ZM609.07 330.6V326.93H610.67V330.6ZM610.67 330.6V329.66H611.47V330.6ZM611.47 330.6V325.81H612.6V330.6ZM612.6 330.6V329.02H614.68V330.6ZM614.68 330.6V326.13H616.29V330.6ZM616.29 330.6V328.54H618.37V330.6ZM618.37 330.6V320.03H619.98V330.6ZM619.98 330.6V316.5H621.58V330.6ZM621.58 330.6V308.48H623.18V330.6ZM623.18 330.6V311.69H624.79V330.6ZM624.79 330.6V317.31H626.39V330.6ZM626.39 330.6V313.3H627.68V330.6ZM627.68 330.6V302.07H628.96V330.6ZM628.96 330.6V299.66H630.24V330.6ZM630.24 330.6V314.9H631.21V330.6ZM631.21 330.6V299.66H632.49V330.6ZM632.49 330.6V314.9H633.77V330.6ZM633.77 330.6V312.49H635.06V330.6ZM635.06 330.6V322.12H636.34V330.6ZM636.34 330.6V324.53H637.94V330.6ZM637.94 330.6V329.66H639.55V330.6ZM639.55 330.6V329.34H643.08V330.6Z" fill="#cc8ce8"/><rect x="596.2" y="297.6" width="65" height="33" fill="none" stroke="#858585" stroke-width="0.7"/><text x="596.2" y="338.2" font-size="5.6" text-anchor="middle" fill="#2a2a2a">0.0</text><text x="618.7" y="338.2" font-size="5.6" text-anchor="middle" fill="#2a2a2a">2.5</text><text x="640.8" y="338.2" font-size="5.6" text-anchor="middle" fill="#2a2a2a">5.0</text><text x="593.6" y="332.64" font-size="5.6" text-anchor="end" fill="#2a2a2a">0</text><text x="593.6" y="315.34" font-size="5.6" text-anchor="end" fill="#2a2a2a">10</text><path d="M596.2 330.6v1.6M618.7 330.6v1.6M640.8 330.6v1.6M596.2 330.6h-1.6M596.2 313.3h-1.6" stroke="#2a2a2a" stroke-width="0.55" fill="none"/>
<path d="M494.04 392.9V391.99H495.77V392.9ZM499.22 392.9V391.65H500.95V392.9ZM503.54 392.9V391.65H506.99V392.9ZM506.99 392.9V391.13H509.59V392.9ZM509.59 392.9V391.65H511.31V392.9ZM511.31 392.9V388.54H512.52V392.9ZM512.52 392.9V385.09H513.9V392.9ZM513.9 392.9V382.5H515.28V392.9ZM515.28 392.9V383.36H516.67V392.9ZM516.67 392.9V380.25H517.7V392.9ZM517.7 392.9V372.13H518.74V392.9ZM518.74 392.9V366.95H519.78V392.9ZM519.78 392.9V362.63H520.81V392.9ZM520.81 392.9V366.09H521.85V392.9ZM521.85 392.9V376.45H522.88V392.9Z" fill="#cc8ce8"/><rect x="457.8" y="361.8" width="65.1" height="31.1" fill="none" stroke="#858585" stroke-width="0.7"/><text x="457.8" y="400.5" font-size="5.6" text-anchor="middle" fill="#2a2a2a">0.0</text><text x="480.7" y="400.5" font-size="5.6" text-anchor="middle" fill="#2a2a2a">2.5</text><text x="502.7" y="400.5" font-size="5.6" text-anchor="middle" fill="#2a2a2a">5.0</text><text x="455.2" y="394.94" font-size="5.6" text-anchor="end" fill="#2a2a2a">0</text><text x="455.2" y="376.44" font-size="5.6" text-anchor="end" fill="#2a2a2a">25</text><path d="M457.8 392.9v1.6M480.7 392.9v1.6M502.7 392.9v1.6M457.8 392.9h-1.6M457.8 374.4h-1.6" stroke="#2a2a2a" stroke-width="0.55" fill="none"/>
<path d="M606.59 394.1V393.38H608.32V394.1ZM623 394.1V393.38H624.72V394.1ZM626.45 394.1V392.86H631.63V394.1ZM631.63 394.1V388.54H633.36V394.1ZM633.36 394.1V393.38H636.81V394.1ZM636.81 394.1V390.27H638.54V394.1ZM638.54 394.1V392.86H640.27V394.1ZM640.27 394.1V388.54H641.99V394.1ZM641.99 394.1V385.95H643.72V394.1ZM643.72 394.1V383.36H645.45V394.1ZM645.45 394.1V385.09H646.83V394.1ZM646.83 394.1V373.86H648.04V394.1ZM648.04 394.1V370.41H649.25V394.1ZM649.25 394.1V377.31H650.63V394.1ZM650.63 394.1V370.41H651.67V394.1ZM651.67 394.1V363.5H652.7V394.1ZM652.7 394.1V366.95H653.74V394.1ZM653.74 394.1V372.13H654.78V394.1ZM654.78 394.1V381.63H655.81V394.1ZM655.81 394.1V375.59H656.85V394.1ZM656.85 394.1V386.81H658.23V394.1ZM658.23 394.1V388.54H659.6V394.1Z" fill="#cc8ce8"/><rect x="595" y="362.3" width="64.6" height="31.8" fill="none" stroke="#858585" stroke-width="0.7"/><text x="595" y="401.7" font-size="5.6" text-anchor="middle" fill="#2a2a2a">0.0</text><text x="617.5" y="401.7" font-size="5.6" text-anchor="middle" fill="#2a2a2a">2.5</text><text x="639.4" y="401.7" font-size="5.6" text-anchor="middle" fill="#2a2a2a">5.0</text><text x="592.4" y="396.14" font-size="5.6" text-anchor="end" fill="#2a2a2a">0</text><text x="592.4" y="373.64" font-size="5.6" text-anchor="end" fill="#2a2a2a">20</text><path d="M595 394.1v1.6M617.5 394.1v1.6M639.4 394.1v1.6M595 394.1h-1.6M595 371.6h-1.6" stroke="#2a2a2a" stroke-width="0.55" fill="none"/>
</g>
<g font-family="'Liberation Sans',sans-serif" font-size="12.2" fill="#111">
<text x="223.6" y="42.5" textLength="77.8" lengthAdjust="spacingAndGlyphs">Feature map 1</text>
<text x="222.8" y="163.5" textLength="77.8" lengthAdjust="spacingAndGlyphs">Feature map 2</text>
<text x="223" y="301.8" textLength="77.8" lengthAdjust="spacingAndGlyphs">Feature map 3</text>
</g>
<g font-family="'Liberation Sans',sans-serif" font-size="9.5" font-style="italic" fill="#000" stroke="#000" stroke-width="0.22">
<text x="460.2" y="16.7" textLength="18.6" lengthAdjust="spacingAndGlyphs">Max</text>
<text x="455.6" y="153.3" textLength="18.8" lengthAdjust="spacingAndGlyphs">Max</text>
<text x="460.9" y="294.1" textLength="18.2" lengthAdjust="spacingAndGlyphs">Max</text>
<text x="590.9" y="17.7" textLength="16.3" lengthAdjust="spacingAndGlyphs">Avg</text>
<text x="590" y="154.1" textLength="15.6" lengthAdjust="spacingAndGlyphs">Avg</text>
<text x="589.6" y="292.8" textLength="16.3" lengthAdjust="spacingAndGlyphs">Avg</text>
</g>
<g font-family="'Liberation Serif','DejaVu Serif',serif" font-style="italic" fill="#000" stroke="#000" stroke-width="0.2">
<text x="456.5" y="80.5" font-size="10.8">G</text><text x="464.2" y="75.5" font-size="7.3" letter-spacing="0.7">a,b</text><text x="463.7" y="82.5" font-size="7.8" letter-spacing="0.95">prod</text>
<text x="590.6" y="81.7" font-size="10.8">G</text><text x="598" y="76.7" font-size="7.3" letter-spacing="0.7">a,b</text><text x="597.6" y="84.4" font-size="7.8" letter-spacing="0.7">ob</text>
<text x="453.3" y="217.8" font-size="10.8">G</text><text x="461" y="212.5" font-size="7.3" letter-spacing="0.7">a,b</text><text x="460.5" y="220.5" font-size="7.8" letter-spacing="0.95">prod</text>
<text x="586.8" y="217.8" font-size="10.8">G</text><text x="594.8" y="212.5" font-size="7.3" letter-spacing="0.7">a,b</text><text x="594" y="220.5" font-size="7.8" letter-spacing="0.7">ob</text>
<text x="453" y="356" font-size="10.8">G</text><text x="460.7" y="351" font-size="7.3" letter-spacing="0.7">a,b</text><text x="459.9" y="358.7" font-size="7.8" letter-spacing="0.95">prod</text>
<text x="586.8" y="356.6" font-size="10.8">G</text><text x="594.8" y="351.6" font-size="7.3" letter-spacing="0.7">a,b</text><text x="594" y="359.3" font-size="7.8" letter-spacing="0.7">ob</text>
</g>
</svg>
</body></html>
